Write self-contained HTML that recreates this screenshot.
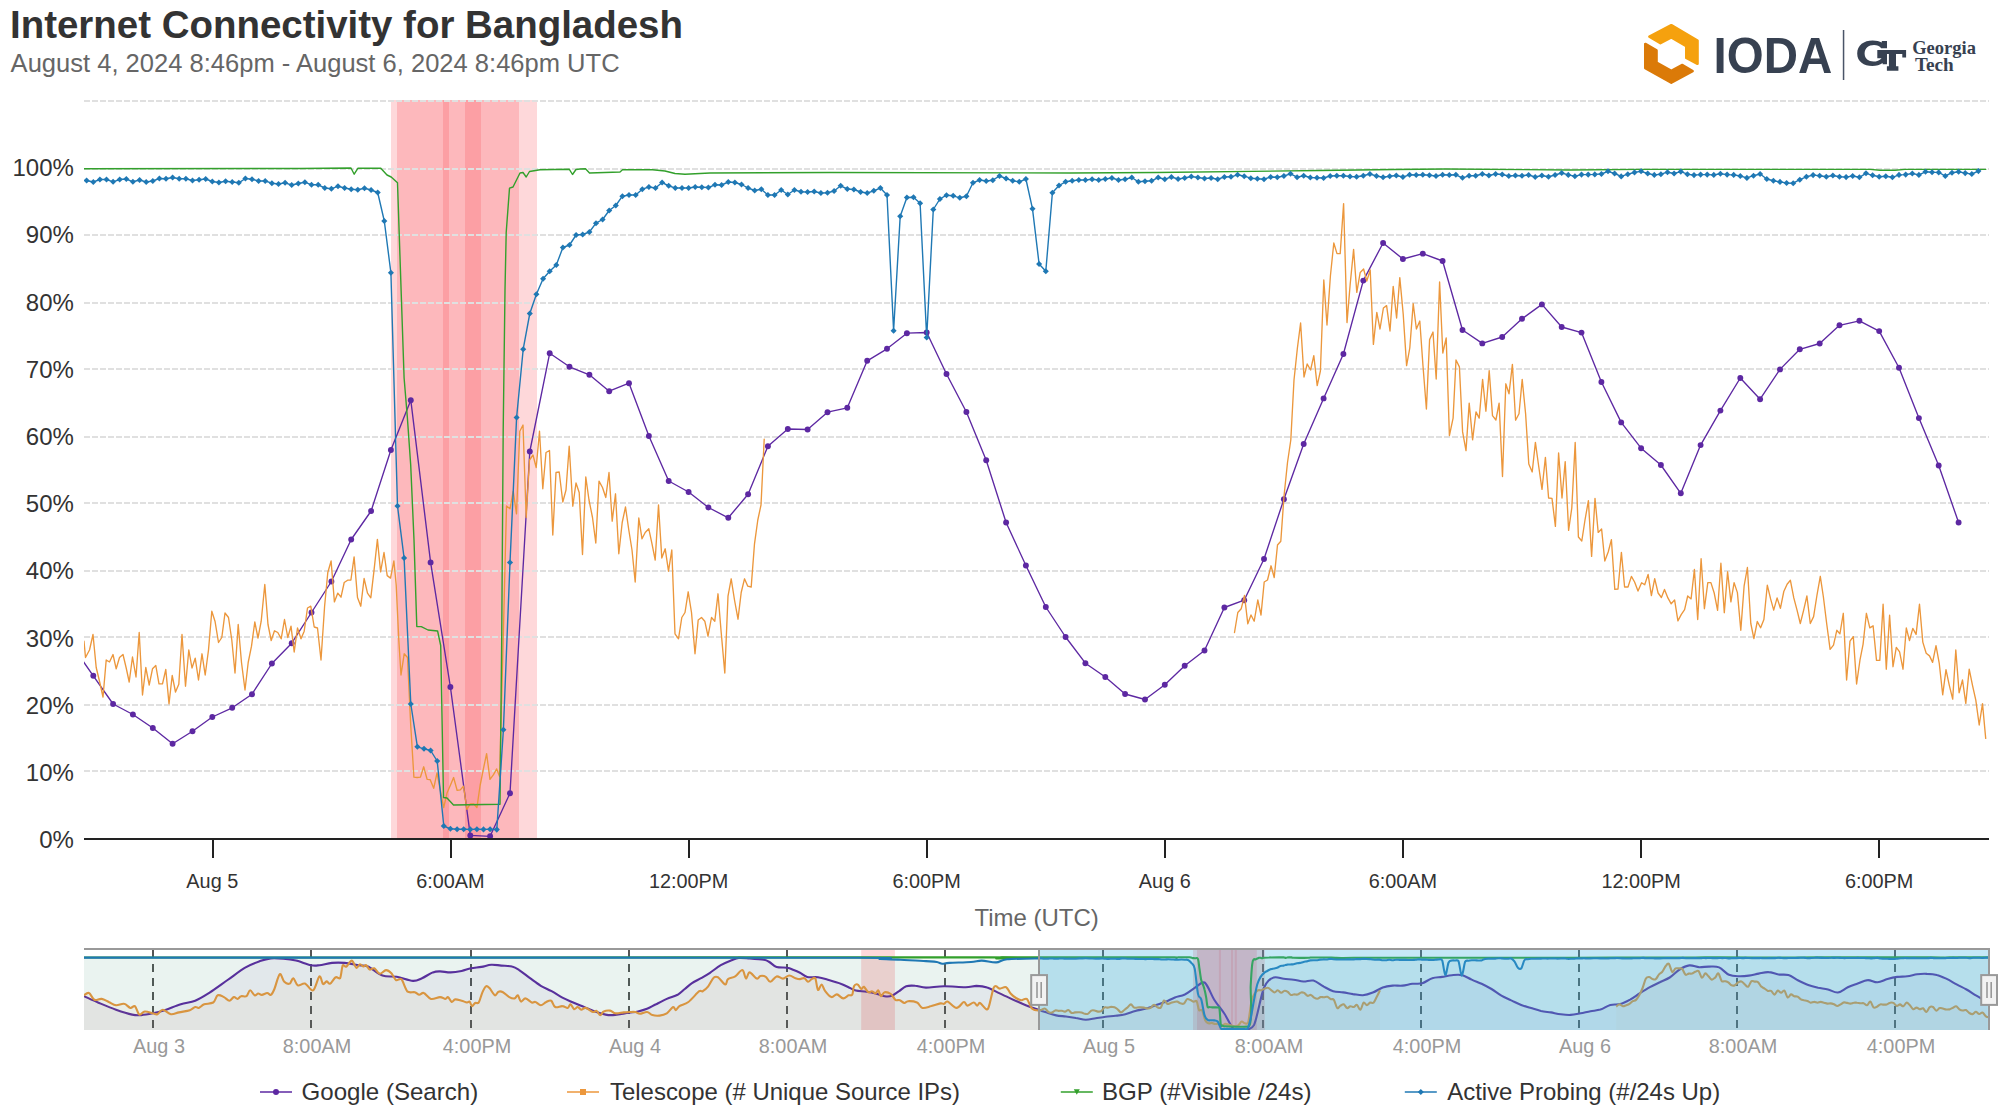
<!DOCTYPE html>
<html><head><meta charset="utf-8"><title>Internet Connectivity for Bangladesh</title>
<style>html,body{margin:0;padding:0;background:#fff;}body{width:2000px;height:1120px;overflow:hidden;font-family:"Liberation Sans", sans-serif;}svg{display:block;}</style></head>
<body>
<svg width="2000" height="1120" viewBox="0 0 2000 1120" font-family='"Liberation Sans", sans-serif'>
<defs>
<clipPath id="cp"><rect x="84" y="98" width="1905" height="743"/></clipPath>
<clipPath id="cn"><rect x="84" y="949" width="1905" height="81"/></clipPath>
<marker id="mc" markerWidth="8" markerHeight="8" refX="4" refY="4" markerUnits="userSpaceOnUse"><circle cx="4" cy="4" r="2.95" fill="#5d28a2"/></marker>
<marker id="md" markerWidth="8" markerHeight="8" refX="4" refY="4" markerUnits="userSpaceOnUse"><path d="M4 0.95 L7.05 4 L4 7.05 L0.95 4 Z" fill="#1f78b4"/></marker>
</defs>
<rect width="2000" height="1120" fill="#fff"/>
<text id="ttl" x="10" y="37.8" font-size="38.6" font-weight="bold" fill="#333" textLength="673" lengthAdjust="spacingAndGlyphs">Internet Connectivity for Bangladesh</text>
<text id="sub" x="10.6" y="71.7" font-size="26.3" fill="#666" textLength="609" lengthAdjust="spacingAndGlyphs">August 4, 2024 8:46pm - August 6, 2024 8:46pm UTC</text>
<g id="logo">
<path d="M1649.4 36.7 L1671.3 25.2 L1697.5 40.5 L1697.5 63.8 L1686.3 57.9 L1686.3 46 L1671.3 37.4 L1660.4 43.1 Z" fill="#f5a10e" stroke="#f5a10e" stroke-width="2.6" stroke-linejoin="round"/>
<path d="M1645.3 44 L1645.3 68.1 L1671.3 82.6 L1692.6 71 L1682.4 65 L1671.3 70.8 L1656.5 62.7 L1656.5 50.4 Z" fill="#db7a08" stroke="#db7a08" stroke-width="2.6" stroke-linejoin="round"/>
<text id="ioda" x="1713.6" y="72.5" font-size="49.6" font-weight="bold" fill="#374151" textLength="118.6" lengthAdjust="spacingAndGlyphs">IODA</text>
<rect x="1842.8" y="30" width="1.5" height="50" fill="#4a5568"/>
<g fill="#374151">
<path fill-rule="evenodd" d="M1857.2 53.4 C1857.2 45 1864 40.4 1872.6 40.4 C1876.5 40.4 1879.5 41.2 1881.8 42.6 L1881.8 40.9 L1887 40.9 L1887 48.2 L1881.2 48.2 C1879.6 45.9 1877 44.9 1874 44.9 C1868.6 44.9 1864.6 48.2 1864.6 53.6 C1864.6 58.9 1868.6 61.6 1873.4 61.6 C1876.6 61.6 1879.6 60.4 1881.6 58.2 L1877.3 58.2 L1877.3 50.1 L1906.1 50.1 L1906.1 57.6 L1902.3 57.6 L1902.3 54 L1896 54 L1896 66.3 L1898.4 66.3 L1898.4 70.8 L1886.9 70.8 L1886.9 66.3 L1888.9 66.3 L1888.9 54 L1887 54 L1887 64.2 L1882.6 64.2 L1882.6 63 C1880 65 1876.4 65.9 1872.4 65.9 C1863.8 65.9 1857.2 61.6 1857.2 53.4 Z"/>
</g>
<text id="geo" x="1912.2" y="53.5" font-family='"Liberation Serif", serif' font-weight="bold" font-size="18.8" fill="#374151" textLength="63.8" lengthAdjust="spacingAndGlyphs">Georgia</text>
<text id="tech" x="1915" y="70.5" font-family='"Liberation Serif", serif' font-weight="bold" font-size="18.8" fill="#374151" textLength="38.8" lengthAdjust="spacingAndGlyphs">Tech</text>
</g>
<rect x="391" y="100" width="146" height="739" fill="rgba(250,62,72,0.2)"/>
<rect x="397" y="100" width="122" height="739" fill="rgba(250,62,72,0.2)"/>
<rect x="443" y="100" width="6" height="739" fill="rgba(250,62,72,0.2)"/>
<rect x="465" y="100" width="16" height="739" fill="rgba(250,62,72,0.2)"/>
<text x="73.9" y="848" font-size="24" fill="#333" text-anchor="end">0%</text>
<line x1="84" x2="1989" y1="771" y2="771" stroke="#e0e0e0" stroke-width="2" stroke-dasharray="6,2"/>
<text x="73.9" y="780.8" font-size="24" fill="#333" text-anchor="end">10%</text>
<line x1="84" x2="1989" y1="705" y2="705" stroke="#e0e0e0" stroke-width="2" stroke-dasharray="6,2"/>
<text x="73.9" y="713.6" font-size="24" fill="#333" text-anchor="end">20%</text>
<line x1="84" x2="1989" y1="637" y2="637" stroke="#e0e0e0" stroke-width="2" stroke-dasharray="6,2"/>
<text x="73.9" y="646.5" font-size="24" fill="#333" text-anchor="end">30%</text>
<line x1="84" x2="1989" y1="571" y2="571" stroke="#e0e0e0" stroke-width="2" stroke-dasharray="6,2"/>
<text x="73.9" y="579.3" font-size="24" fill="#333" text-anchor="end">40%</text>
<line x1="84" x2="1989" y1="503" y2="503" stroke="#e0e0e0" stroke-width="2" stroke-dasharray="6,2"/>
<text x="73.9" y="512.1" font-size="24" fill="#333" text-anchor="end">50%</text>
<line x1="84" x2="1989" y1="437" y2="437" stroke="#e0e0e0" stroke-width="2" stroke-dasharray="6,2"/>
<text x="73.9" y="444.9" font-size="24" fill="#333" text-anchor="end">60%</text>
<line x1="84" x2="1989" y1="369" y2="369" stroke="#e0e0e0" stroke-width="2" stroke-dasharray="6,2"/>
<text x="73.9" y="377.7" font-size="24" fill="#333" text-anchor="end">70%</text>
<line x1="84" x2="1989" y1="303" y2="303" stroke="#e0e0e0" stroke-width="2" stroke-dasharray="6,2"/>
<text x="73.9" y="310.6" font-size="24" fill="#333" text-anchor="end">80%</text>
<line x1="84" x2="1989" y1="235" y2="235" stroke="#e0e0e0" stroke-width="2" stroke-dasharray="6,2"/>
<text x="73.9" y="243.4" font-size="24" fill="#333" text-anchor="end">90%</text>
<line x1="84" x2="1989" y1="169" y2="169" stroke="#e0e0e0" stroke-width="2" stroke-dasharray="6,2"/>
<text x="73.9" y="176.2" font-size="24" fill="#333" text-anchor="end">100%</text>
<line x1="84" x2="1989" y1="101" y2="101" stroke="#e0e0e0" stroke-width="2" stroke-dasharray="6,2"/>
<g clip-path="url(#cp)" fill="none" stroke-linejoin="round" stroke-linecap="round">
<polyline points="73.4,647.3 93.3,675.8" stroke="#5d28a2" stroke-width="1.35"/>
<polyline points="93.3,675.8 113.1,704 132.9,714.5 152.8,728 172.6,743.8 192.5,731.2 212.3,717 232.2,707.8 252,694.2 271.9,663.5 291.7,643.2 311.5,612.5 331.4,581.5 351.2,539.5 371.1,511 390.9,450 410.8,400.2 430.6,562.4 450.4,687 470.3,835.4 490.1,836.3 510,793.2 529.8,451.5 549.7,353.2 569.5,366.8 589.4,374.8 609.2,391.2 629,383.2 648.9,436 668.7,481 688.6,492 708.4,507.5 728.3,517.8 748.1,494.2 767.9,446.2 787.8,429 807.6,429.5 827.5,412.2 847.3,407.8 867.2,360.8 887,348.8 906.9,333.2 926.7,332.5 946.5,374 966.4,412 986.2,460.2 1006.1,522.5 1025.9,565.5 1045.8,607 1065.6,637 1085.4,663.2 1105.3,677 1125.1,694 1145,699.5 1164.8,684.8 1184.7,665.8 1204.5,650.5 1224.4,607.5 1244.2,600.2 1264,559 1283.9,499.2 1303.7,444 1323.6,398.4 1343.4,354 1363.3,280.6 1383.1,243 1402.9,259 1422.8,253.6 1442.6,261 1462.5,330 1482.3,343.4 1502.2,337 1522,318.8 1541.9,304.4 1561.7,327 1581.5,332.6 1601.4,382 1621.2,422.4 1641.1,448.2 1660.9,465 1680.8,493.3 1700.6,445.1 1720.4,410.6 1740.3,378 1760.1,399.2 1780,369.4 1799.8,349.3 1819.7,343.5 1839.5,325.3 1859.4,320.8 1879.2,331.1 1899,367.7 1918.9,418.1 1938.7,465.5 1958.6,522.5" stroke="#5d28a2" stroke-width="1.35" marker-start="url(#mc)" marker-mid="url(#mc)" marker-end="url(#mc)"/>
<polyline points="84,641.2 85.5,657.5 89.5,650 93,634.5 96.2,667.5 99.8,682.5 103,697 106.2,660 109.5,662 113,654.5 116.2,668.8 119.5,657.5 123,654.5 126.2,668 129.2,682 132.5,657 136,677 139.2,632.5 142.5,695 145.8,667.5 149.2,685 152.5,668.8 155.8,665.5 159,683.8 162.5,683.8 165.8,669.5 169,703.8 172.2,675.5 175.5,692 178.8,684.2 182,634.5 185.5,686.2 188.8,650 192,668 195.2,658.2 198.5,680 202,653.8 205.2,675 208.5,650 211.8,611.2 215,621.2 218.5,642.5 221.8,637.5 225,613 228.5,617.5 231.8,640 235,673 238.2,624.5 241.5,662.5 245,690 248.2,662.5 251.5,646.2 254.8,622 258,638 261.2,621.2 264.8,584.5 268,624.5 271.2,640.5 274.5,630.8 277.8,632.5 281.2,638.8 284.5,619.5 287.8,637.5 291,626.2 294.2,652 297.5,628 301,638.8 304.2,631.2 307.5,608 310.8,606.2 314.2,627 317.5,628 321,660 324.6,606.2 327.8,572.5 331.1,561 334.4,601.9 337.8,593.1 341,597.2 344.2,582.5 347.6,580.2 350.9,580 354.1,556.9 357.5,597.5 360.8,606.2 364.1,578.5 367.5,593.1 370.8,597.8 374,570.6 377.4,539.4 380.6,571.9 384,552.5 387.2,575.6 390.5,578.1 393.9,561 396.2,585 398.8,640 401,675 404.2,653.8 407.5,657.5 410.7,724.6 413.9,777.2 417.1,777.5 420.4,777.2 423.7,766.8 427.1,779.3 430.2,779.7 433.7,788.3 437,773 440.2,789.7 443.7,807.6 447,793.1 450.3,785.5 453.6,777.5 457.1,790.3 460.3,789.9 463.5,786.2 466.9,809.3 470.2,803.8 473.6,803.8 476.9,807.6 480.1,785.5 483.4,768.9 486.6,753.7 490,779.3 493.5,774.7 496.7,768.9 499.6,776.5 503.2,640 506.5,506 510,508.8 513.2,491.2 516.5,513.8 519.8,431.2 523,425 526.2,517.5 529.5,460 533,455 536.2,467.5 539.5,431.2 542.8,488.8 546,452.5 549.5,450.5 552.8,535 556,472.5 559.2,472 562.8,502 566,490 569.2,446.2 572.8,506.2 576,483 579.2,492.5 582.5,554.5 585.8,477 589,500 592.5,517.5 595.8,543 599,481.2 602.5,487.5 605.8,497.5 609,472.5 612.2,521.2 615.5,493.8 618.8,553.8 622.2,522.5 625.5,507 628.8,530 632,550 635.2,582 638.8,518 642,538.8 645.2,532.5 648.8,528.8 652,543.8 655.2,560 658.5,505 661.8,558 665.2,548.8 668.5,571.2 671.8,550 675,633.8 678.5,638.8 681.8,617.5 685,612.5 688.2,591.8 691.5,612.5 695,653.8 698.2,620 701.5,617.5 704.8,621.2 708,636.2 711.5,617.5 714.8,621.2 718,593.8 721.2,632.5 724.8,673 728,596.2 731.2,578.8 734.5,600 738,619.2 741.2,592.5 744.5,578.8 747.8,586.2 751.2,587 754.5,543.8 757.8,520 761,505 764.2,439.2" stroke="#ec973c" stroke-width="1.35"/>
<polyline points="1234.5,632.5 1237.8,612.5 1241.2,608.8 1244.5,595.5 1247.8,623.8 1251,615 1254.2,621.2 1257.8,600 1261,615 1264.2,582 1267.5,580 1271,565.8 1274.2,577.5 1277.5,545 1280.8,541.2 1284,496.2 1287.5,462.5 1290.8,440 1294,380 1297.4,348 1300.6,323 1304,377 1307.2,364 1310.6,370 1313.8,355.6 1317.2,385.6 1320.4,371 1323.8,280 1327,325 1330.4,276 1333.8,243 1337,253.6 1340.2,253.6 1343.6,203.6 1347,322.6 1350.2,284 1353.6,249.4 1356.8,292.4 1360.2,272.4 1363.6,269 1366.8,281 1370.2,270 1373.4,344.4 1376.8,312.4 1380,329 1383.4,308 1386.6,305.6 1390,331 1393.2,286.4 1396.6,318 1399.8,277.6 1403.2,314 1406.6,365.6 1409.8,348 1413.2,303.6 1416.4,329 1419.8,321 1423,366 1426.4,409 1429.6,339.6 1433,332 1436.2,379 1439.6,282 1442.8,353 1446.2,338 1449.4,435.6 1453.1,418.1 1456,360 1459.4,366.9 1462.6,431.9 1466,450.6 1469.2,403.1 1472.6,439.8 1476,411.9 1479.2,418.1 1482.6,379.4 1485.9,411.2 1489.2,370.6 1492.5,415.6 1495.9,420 1499.1,403.1 1502.5,476.5 1505.8,383.8 1509,393.8 1512.4,364.4 1515.6,420.2 1519,413.8 1522.2,379.4 1525.6,413.8 1528.8,464 1532.2,472 1535.4,442.4 1538.8,467 1542,489.4 1545.4,457.4 1548.6,498 1552,498.4 1555.4,526.4 1558.6,453 1562,498 1565.2,461.6 1568.6,530.4 1571.8,508 1575.2,442.4 1578.4,537 1581.8,541 1585,520 1588.4,500.6 1591.6,556.4 1595,498.4 1598.2,532.4 1601.6,529 1604.8,561 1608.2,552 1611.4,539.6 1614.8,589.4 1618,589 1621.4,552.4 1624.6,587 1628,587 1631.4,576.4 1634.6,582 1638,591 1641.6,582.8 1644.7,584.8 1648.1,574.4 1651.4,595.6 1654.7,578.7 1658.1,593 1661.4,597.5 1664.5,589.5 1667.9,597.9 1671.2,603.8 1674.6,599.9 1677.9,620.9 1681.2,614.6 1684.6,609.7 1687.7,596 1691.1,598.9 1694.4,569.5 1697.7,619.5 1701.1,558.7 1704.4,608.7 1707.8,582.6 1710.9,582.6 1714.2,593 1717.6,610.3 1720.9,563.2 1724.3,612.7 1727.6,571.8 1730.9,601.9 1734.1,582.6 1737.4,592.6 1740.8,630.3 1744.1,586.2 1747.4,567.5 1750.8,623.5 1753.9,638.6 1757.3,621.5 1760.6,627.8 1763.9,619.5 1767.3,585.2 1770.6,598.9 1773.7,610.1 1777.1,597.9 1780.4,608.3 1783.8,591.5 1787.1,584.2 1790.4,580.3 1793.8,597.9 1797.1,610.3 1800.3,623.5 1803.6,610.3 1806.9,596 1810.3,623.5 1813.6,616.6 1817,595 1820.3,576.3 1823.4,597 1826.8,624.5 1830.1,649.4 1833.5,645.1 1836.8,630.3 1839.9,633.9 1843.3,613.3 1846.6,680 1850,641.1 1853.3,636.6 1856.6,684 1860,659.8 1863.1,644.1 1866.4,613.3 1869.8,627.8 1873.1,625.8 1876.5,660.4 1879.8,660.4 1883.1,604.2 1886.3,669.2 1889.6,615.2 1893,666.7 1896.3,647.4 1899.6,651.9 1903,669.2 1906.3,628 1909.5,640.6 1912.8,628.4 1916.1,634.3 1919.5,604.2 1922.8,642.1 1926.2,653.3 1929.5,655.9 1932.6,662.4 1936,645.7 1939.3,663.7 1942.7,694.8 1946,669.6 1949.3,685.3 1952.7,699.1 1955.8,650 1959.1,692.8 1962.5,680 1965.8,703.4 1969.2,669.2 1972.5,685.3 1975.8,700.1 1979.2,725 1982.5,703.6 1985.7,738.4" stroke="#ec973c" stroke-width="1.35"/>
<polyline points="84,168.8 300,168.5 351,168 354.2,174.2 358,168.2 380.8,168.2 387,175 391.2,177 397.5,182.8 400.8,281 404.1,378 407.4,418 410.7,465 414,540 416.8,626.6 421.3,626.6 428,630 437.6,631 440.7,645.5 443.5,797.5 447,798 453.5,805 500,804.2 501.7,640 503.2,430 505,290 506.2,232.5 509.5,188.2 513,187 520,173 523,172.5 526.2,177 529.5,171.5 540,169.8 569.2,169.2 572.5,174.5 576,169.5 580,169 585.5,168.8 589.5,173 620,172 622.5,169.8 652.5,169.8 665,171 675,173.5 685,174.2 710,173 830,172.5 1070,173 1157,172.5 1320,170.5 1395,169.5 1445,169 1570,170 1640,169.4 1870,169.4 1880,170.2 1895,170.2 1905,169.4 1985.7,169.4" stroke="#33a02c" stroke-width="1.4"/>
<polyline points="86.6,180.5 93.3,182 99.9,179.5 106.5,179.5 113.1,181.8 119.7,179.5 126.3,179 132.9,181.8 139.6,180 146.2,182 152.8,181 159.4,178.5 166,178.8 172.6,177.5 179.2,178.8 185.9,178.8 192.5,180.5 199.1,179.8 205.7,179 212.3,181.5 218.9,182.5 225.6,181.2 232.2,182 238.8,182.8 245.4,178.5 252,179.2 258.6,181 265.2,181 271.9,183.2 278.5,184 285.1,182.8 291.7,185 298.3,183.5 304.9,182.2 311.5,184.8 318.2,184.8 324.8,188 331.4,188.8 338,186.2 344.6,188 351.2,189.2 357.8,189.8 364.5,188.2 371.1,190 377.7,192.5 384.3,221 390.9,272.8 397.5,506 404.1,558 410.8,704 417.4,746.8 424,748.8 430.6,750.5 437.2,761 443.8,826 450.4,828.8 457.1,829.3 463.7,829.2 470.3,829.4 476.9,829.2 483.5,829.4 490.1,829.2 496.8,829.6 503.4,729.8 510,562.5 516.6,417.5 523.2,349.2 529.8,313.5 536.4,294.2 543.1,278.8 549.7,271.2 556.3,265 562.9,247.5 569.5,245 576.1,235 582.7,234.5 589.4,232 596,223.2 602.6,219.5 609.2,210.5 615.8,205.5 622.4,196.2 629,195 635.7,195 642.3,189.2 648.9,187 655.5,188 662.1,182.5 668.7,185.8 675.3,188 682,188 688.6,188 695.2,187 701.8,187.2 708.4,187.5 715,184.8 721.6,185 728.3,182 734.9,182.5 741.5,184.5 748.1,188 754.7,190.5 761.3,189.2 767.9,195 774.6,195 781.2,190 787.8,194.5 794.4,190 801,191.8 807.6,192 814.2,191.5 820.9,193 827.5,192.8 834.1,191 840.7,185.8 847.3,189 853.9,189.5 860.6,192 867.2,193 873.8,190.8 880.4,188 887,195 893.6,330.8 900.2,216.2 906.9,197.5 913.5,197.2 920.1,203.2 926.7,337.5 933.3,209.5 939.9,199 946.5,195.2 953.2,195.8 959.8,197.8 966.4,196.2 973,182.8 979.6,180 986.2,181 992.8,180.2 999.5,176 1006.1,178.5 1012.7,180.8 1019.3,181.8 1025.9,179 1032.5,208.8 1039.1,264 1045.8,271.2 1052.4,192.8 1059,185.5 1065.6,181.8 1072.2,180.8 1078.8,180 1085.4,180 1092.1,179.2 1098.7,180 1105.3,179 1111.9,178 1118.5,180 1125.1,179.2 1131.8,177.5 1138.4,181.8 1145,181.2 1151.6,180.8 1158.2,177.5 1164.8,179.2 1171.4,177 1178.1,179 1184.7,178 1191.3,176.5 1197.9,177.5 1204.5,178.5 1211.1,178 1217.7,179.2 1224.4,177 1231,176.8 1237.6,174.8 1244.2,176.2 1250.8,178.2 1257.4,178.8 1264,179.2 1270.7,177 1277.3,177.2 1283.9,176 1290.5,173.8 1297.1,177.2 1303.7,175.8 1310.3,177.5 1317,177.8 1323.6,178 1330.2,176 1336.8,175.8 1343.4,175.8 1350,176.5 1356.6,176.8 1363.3,175.8 1369.9,174 1376.5,176 1383.1,177.2 1389.7,176.2 1396.3,175.5 1402.9,177 1409.6,174.8 1416.2,175 1422.8,174.8 1429.4,175.2 1436,176 1442.6,174.8 1449.3,175 1455.9,174.8 1462.5,177.8 1469.1,175.8 1475.7,175.8 1482.3,174 1488.9,175.5 1495.6,174 1502.2,174.5 1508.8,176 1515.4,175.5 1522,175.8 1528.6,175 1535.2,177 1541.9,175.5 1548.5,176.8 1555.1,175 1561.7,173 1568.3,174.9 1574.9,176.2 1581.5,174.6 1588.2,174.6 1594.8,174.4 1601.4,174 1608,171.3 1614.6,173.5 1621.2,176.4 1627.8,174.2 1634.5,172.4 1641.1,171.3 1647.7,173.5 1654.3,174.9 1660.9,174.2 1667.5,172.2 1674.1,173.5 1680.8,171.6 1687.4,174.2 1694,175.1 1700.6,174.6 1707.2,174.6 1713.8,174.9 1720.4,173.8 1727.1,174.6 1733.7,174.9 1740.3,176 1746.9,177.9 1753.5,175.7 1760.1,174 1766.8,179 1773.4,180.8 1780,181.9 1786.6,183 1793.2,183.2 1799.8,179.7 1806.4,176.8 1813.1,175.1 1819.7,175.7 1826.3,176.8 1832.9,175.5 1839.5,176.8 1846.1,177.1 1852.7,176 1859.4,177.3 1866,173.3 1872.6,175.3 1879.2,176.8 1885.8,176.2 1892.4,177.3 1899,174.9 1905.7,174.6 1912.3,173.5 1918.9,174.9 1925.5,171.8 1932.1,172.2 1938.7,172.4 1945.3,176 1952,172.7 1958.6,171.8 1965.2,173.1 1971.8,174 1978.4,171.1" stroke="#1f78b4" stroke-width="1.4" marker-start="url(#md)" marker-mid="url(#md)" marker-end="url(#md)"/>
</g>
<line x1="84" x2="1989" y1="839" y2="839" stroke="#222" stroke-width="2"/>
<line x1="213" x2="213" y1="839" y2="858" stroke="#222" stroke-width="2"/>
<text x="212.3" y="888" font-size="19.85" fill="#333" text-anchor="middle">Aug 5</text>
<line x1="451" x2="451" y1="839" y2="858" stroke="#222" stroke-width="2"/>
<text x="450.4" y="888" font-size="19.85" fill="#333" text-anchor="middle">6:00AM</text>
<line x1="689" x2="689" y1="839" y2="858" stroke="#222" stroke-width="2"/>
<text x="688.6" y="888" font-size="19.85" fill="#333" text-anchor="middle">12:00PM</text>
<line x1="927" x2="927" y1="839" y2="858" stroke="#222" stroke-width="2"/>
<text x="926.7" y="888" font-size="19.85" fill="#333" text-anchor="middle">6:00PM</text>
<line x1="1165" x2="1165" y1="839" y2="858" stroke="#222" stroke-width="2"/>
<text x="1164.8" y="888" font-size="19.85" fill="#333" text-anchor="middle">Aug 6</text>
<line x1="1403" x2="1403" y1="839" y2="858" stroke="#222" stroke-width="2"/>
<text x="1402.9" y="888" font-size="19.85" fill="#333" text-anchor="middle">6:00AM</text>
<line x1="1641" x2="1641" y1="839" y2="858" stroke="#222" stroke-width="2"/>
<text x="1641.1" y="888" font-size="19.85" fill="#333" text-anchor="middle">12:00PM</text>
<line x1="1879" x2="1879" y1="839" y2="858" stroke="#222" stroke-width="2"/>
<text x="1879.2" y="888" font-size="19.85" fill="#333" text-anchor="middle">6:00PM</text>
<text x="1036.6" y="925.5" font-size="24" fill="#666" text-anchor="middle">Time (UTC)</text>
<g id="nav">
<line x1="153" x2="153" y1="950" y2="1030" stroke="#555" stroke-width="2" stroke-dasharray="8,6"/>
<line x1="311" x2="311" y1="950" y2="1030" stroke="#555" stroke-width="2" stroke-dasharray="8,6"/>
<line x1="471" x2="471" y1="950" y2="1030" stroke="#555" stroke-width="2" stroke-dasharray="8,6"/>
<line x1="629" x2="629" y1="950" y2="1030" stroke="#555" stroke-width="2" stroke-dasharray="8,6"/>
<line x1="787" x2="787" y1="950" y2="1030" stroke="#555" stroke-width="2" stroke-dasharray="8,6"/>
<line x1="945" x2="945" y1="950" y2="1030" stroke="#555" stroke-width="2" stroke-dasharray="8,6"/>
<line x1="1103" x2="1103" y1="950" y2="1030" stroke="#555" stroke-width="2" stroke-dasharray="8,6"/>
<line x1="1263" x2="1263" y1="950" y2="1030" stroke="#555" stroke-width="2" stroke-dasharray="8,6"/>
<line x1="1421" x2="1421" y1="950" y2="1030" stroke="#555" stroke-width="2" stroke-dasharray="8,6"/>
<line x1="1579" x2="1579" y1="950" y2="1030" stroke="#555" stroke-width="2" stroke-dasharray="8,6"/>
<line x1="1737" x2="1737" y1="950" y2="1030" stroke="#555" stroke-width="2" stroke-dasharray="8,6"/>
<line x1="1895" x2="1895" y1="950" y2="1030" stroke="#555" stroke-width="2" stroke-dasharray="8,6"/>
<rect x="861.2" y="950" width="33.7" height="80" fill="rgba(250,62,72,0.2)"/>
<rect x="1193" y="950" width="71.8" height="80" fill="rgba(250,62,72,0.2)"/>
<rect x="1197" y="950" width="59.8" height="80" fill="rgba(250,62,72,0.2)"/>
<rect x="1218.9" y="950" width="2" height="80" fill="rgba(250,62,72,0.2)"/>
<rect x="1231" y="950" width="2" height="80" fill="rgba(250,62,72,0.2)"/>
<rect x="1234.8" y="950" width="2" height="80" fill="rgba(250,62,72,0.2)"/>
<g clip-path="url(#cn)">
<path d="M84 996.2C86.3 997.2 92.7 1000.2 98 1002.5C103.3 1004.7 110.3 1007.7 116 1009.7C121.7 1011.7 128 1013.7 132.2 1014.6C136.4 1015.5 137.7 1015.3 141.2 1015.1C144.6 1014.9 149 1014.1 152.9 1013.3C156.8 1012.5 159.9 1011.7 164.6 1010.2C169.2 1008.7 175.7 1005.9 180.8 1004.3C185.9 1002.7 190.4 1002.6 195.2 1000.7C200 998.7 204.2 996 209.6 992.6C215 989.1 221.6 984.2 227.6 980C233.6 975.8 240.2 970.5 245.6 967.4C251 964.2 255.8 962.6 260 961.1C264.2 959.6 266.9 958.8 270.8 958.4C274.7 958 279.2 958.4 283.4 958.8C287.6 959.1 291.4 959.5 296 960.6C300.6 961.6 307 964.5 310.9 965.2C314.8 966 315.9 965.6 319.4 965.2C322.9 964.8 327.8 963.3 332 962.9C336.2 962.5 340.1 962.5 344.6 962.9C349.1 963.3 355.1 964.6 359 965.2C362.9 965.8 364.1 964.8 368 966.5C371.9 968.2 377.6 973.8 382.4 975.5C387.2 977.2 391.7 975.9 396.8 976.8C401.9 977.7 408.8 980.7 413 980.9C417.2 981.1 418.7 979.6 422 978.2C425.3 976.8 429.8 973.6 432.8 972.4C435.8 971.3 437 971.4 440 971.4C443 971.4 447.2 972.5 450.8 972.4C454.4 972.4 458.2 971.7 461.6 971C465 970.3 467.7 969 471 968.3C474.3 967.6 478 967.5 481.4 966.9C484.8 966.3 488 964.9 491.3 964.7C494.6 964.5 497.7 965.3 501.2 965.6C504.6 965.9 509 965.7 512 966.5C515 967.2 516.2 968.1 519.2 970.1C522.2 972 526.4 975.6 530 978.2C533.6 980.8 537.2 983.6 540.8 985.8C544.4 987.9 548 989.2 551.6 991.2C555.2 993.1 558.8 995.7 562.4 997.6C566 999.5 569.6 1000.9 573.2 1002.5C576.8 1004.1 580.4 1005.5 584 1007C587.6 1008.5 591.2 1010.2 594.8 1011.5C598.4 1012.8 602.6 1014 605.6 1014.6C608.6 1015.2 610.4 1015.2 612.8 1015.1C615.2 1015 617.3 1014.6 620 1014.2C622.7 1013.8 626 1013.2 629 1012.8C632 1012.3 635 1012.2 638 1011.5C641 1010.8 644 1010 647 1008.8C650 1007.6 652.7 1005.9 656 1004.3C659.3 1002.6 663.2 1000.5 666.8 998.9C670.4 997.3 674.6 996.4 677.6 994.8C680.6 993.1 682.4 990.9 684.8 989C687.2 987.1 689.3 985 692 983.2C694.7 981.4 698 979.9 701 978.2C704 976.5 706.7 975 710 972.8C713.3 970.6 717.2 967.3 720.8 965.2C724.4 963.1 728.6 961.4 731.6 960.2C734.6 959 735.8 958.2 738.8 957.9C741.8 957.6 745.4 958.1 749.6 958.4C753.8 958.7 760.7 959.2 764 959.8C767.3 960.4 767.3 960.8 769.4 962C771.5 963.2 773.6 966.1 776.6 967C779.6 968 784.5 967.2 787.4 967.8C790.2 968.3 791.6 969.3 793.7 970.1C795.8 970.9 797.7 971.7 800 972.8C802.3 973.9 804.2 976.2 807.2 976.9C810.2 977.7 814.4 976.8 818 977.3C821.6 977.8 824.9 978.9 828.8 980C832.7 981.1 837.8 982.6 841.4 984C845 985.3 848 987 850.4 988.1C852.8 989.2 853.1 989.8 855.8 990.4C858.5 991 863.3 991.2 866.6 991.7C869.9 992.2 872.6 992.7 875.6 993.5C878.6 994.2 881.9 995.8 884.6 996.2C887.3 996.6 889.4 996.7 891.8 995.8C894.2 995 896.6 992.7 899 991.2C901.4 989.6 903.5 987.2 906.2 986.3C908.9 985.4 911.9 985.5 915.2 985.8C918.5 986 921.2 987.5 926 987.6C930.8 987.6 937.4 986.4 944 986.3C950.6 986.2 960.2 987.3 965.6 987.2C971 987.1 972.8 985.9 976.4 985.9C980 986 983.6 986.4 987.2 987.6C990.8 988.7 994.4 990.9 998 992.6C1001.6 994.3 1005.2 996 1008.8 997.6C1012.4 999.3 1016 1000.9 1019.6 1002.5C1023.2 1004.1 1027.1 1005.8 1030.4 1007C1033.6 1008.2 1037.2 1009 1039 1009.7C1040.9 1010.3 1040.4 1010.4 1041.6 1010.9C1042.8 1011.3 1043.8 1011.6 1046.2 1012.3C1048.6 1013.1 1052.8 1014.7 1056.1 1015.4C1059.4 1016.1 1062.7 1016.1 1066 1016.5C1069.3 1016.9 1072.6 1017.4 1075.9 1018C1079.2 1018.5 1082.5 1019.6 1085.8 1019.7C1089.1 1019.7 1092.4 1018.8 1095.7 1018.3C1099 1017.8 1102.3 1017.2 1105.6 1016.8C1108.9 1016.4 1112.2 1016.2 1115.5 1015.8C1118.8 1015.4 1122.1 1015.1 1125.4 1014.3C1128.7 1013.5 1132 1011.9 1135.3 1011C1138.6 1010.1 1141.9 1009.7 1145.2 1008.8C1148.5 1007.9 1151.8 1006.6 1155.1 1005.5C1158.4 1004.3 1161.7 1003.4 1165 1002.1C1168.3 1000.8 1171.6 998.8 1174.9 997.5C1178.2 996.3 1181.5 996.1 1184.8 994.5C1188.1 992.8 1191.4 989.9 1194.7 987.9C1198 985.9 1201.3 981.5 1204.6 982.5C1207.8 984.5 1211.1 994.9 1214.4 1000C1217.7 1005.2 1221 1008.6 1224.3 1013.5C1227.6 1018.5 1230.9 1026.9 1234.2 1029.6C1237.5 1030.7 1240.8 1030.5 1244.1 1029.7C1247.4 1028.9 1250.7 1030.7 1254 1025C1257.3 1018.1 1260.6 996 1263.9 988C1267.2 980.1 1270.5 978.9 1273.8 977.4C1277.1 976.4 1280.4 978.4 1283.7 978.8C1287 979.2 1290.3 979.3 1293.6 979.7C1296.9 980.1 1300.2 981.3 1303.5 981.5C1306.8 981.6 1310.1 979.8 1313.4 980.6C1316.7 981.4 1320 984.6 1323.3 986.3C1326.6 988.1 1329.9 990.2 1333.2 991.2C1336.5 992.2 1339.8 991.9 1343.1 992.4C1346.4 992.9 1349.7 993.6 1353 994.1C1356.3 994.5 1359.6 995.4 1362.9 995.2C1366.2 995 1369.5 993.9 1372.8 992.6C1376.1 991.4 1379.4 988.6 1382.7 987.4C1386 986.3 1389.3 985.9 1392.6 985.6C1395.9 985.3 1399.2 985.9 1402.5 985.6C1405.8 985.3 1409.1 984.2 1412.4 983.8C1415.7 983.4 1419 984.2 1422.3 983.3C1425.6 982.3 1428.9 979.2 1432.2 978.2C1435.5 977.1 1438.8 977.4 1442.1 976.9C1445.3 976.4 1448.6 975.5 1451.9 975.2C1455.2 974.9 1458.5 974.4 1461.8 975.1C1465.1 975.9 1468.4 978.2 1471.7 979.6C1475 981.1 1478.3 982.2 1481.6 983.7C1484.9 985.3 1488.2 987 1491.5 989C1494.8 991 1498.1 993.8 1501.4 995.7C1504.7 997.6 1508 998.8 1511.3 1000.4C1514.6 1001.9 1517.9 1003.6 1521.2 1004.9C1524.5 1006.2 1527.8 1007.1 1531.1 1008.1C1534.4 1009.1 1537.7 1010.2 1541 1011C1544.3 1011.7 1547.6 1011.9 1550.9 1012.4C1554.2 1013 1557.5 1013.9 1560.8 1014.3C1564.1 1014.7 1567.4 1015.1 1570.7 1014.9C1574 1014.7 1577.3 1013.9 1580.6 1013.3C1583.9 1012.7 1587.2 1011.8 1590.5 1011.2C1593.8 1010.6 1597.1 1010.6 1600.4 1009.6C1603.7 1008.5 1607 1005.8 1610.3 1004.9C1613.6 1004 1616.9 1005 1620.2 1004.1C1623.5 1003.3 1626.8 1001.5 1630.1 999.7C1633.4 997.8 1636.7 995.3 1640 993.2C1643.3 991.1 1646.6 989 1649.9 987.2C1653.2 985.4 1656.5 983.9 1659.8 982.3C1663.1 980.6 1666.4 979.6 1669.7 977.5C1673 975.3 1676.3 971.5 1679.6 969.5C1682.8 967.5 1686.1 965.8 1689.4 965.4C1692.7 965 1696 967 1699.3 967.2C1702.6 967.3 1705.9 966.5 1709.2 966.6C1712.5 966.6 1715.8 966 1719.1 967.4C1722.4 968.8 1725.7 973.4 1729 974.8C1732.3 976.3 1735.6 976.2 1738.9 976.3C1742.2 976.4 1745.5 976.1 1748.8 975.6C1752.1 975.2 1755.4 974.2 1758.7 973.6C1762 973 1765.3 971.9 1768.6 972.1C1771.9 972.2 1775.2 974 1778.5 974.5C1781.8 975 1785.1 974.1 1788.4 975.1C1791.7 976.1 1795 978.9 1798.3 980.5C1801.6 982.1 1804.9 983.7 1808.2 984.9C1811.5 986.1 1814.8 986.9 1818.1 987.7C1821.4 988.4 1824.7 988.7 1828 989.5C1831.3 990.3 1834.6 992.9 1837.9 992.5C1841.2 992.2 1844.5 988.8 1847.8 987.3C1851.1 985.8 1854.4 984.8 1857.7 983.6C1861 982.4 1864.3 980.3 1867.6 980.1C1870.9 979.8 1874.2 982.5 1877.5 982.3C1880.8 982.2 1884.1 980 1887.4 979.1C1890.7 978.2 1894 977.4 1897.3 976.9C1900.6 976.5 1903.9 976.7 1907.2 976.3C1910.5 975.9 1913.8 974.8 1917.1 974.3C1920.3 973.9 1923.6 973.7 1926.9 973.9C1930.2 974 1933.5 974.1 1936.8 975C1940.1 975.8 1943.4 977.4 1946.7 978.9C1950 980.5 1953.3 982.6 1956.6 984.4C1959.9 986.2 1963.2 987.6 1966.5 989.5C1969.8 991.4 1972.9 993.6 1976.4 995.7C1979.9 997.8 1985.7 1001.1 1987.5 1002.2L1987.5 1030L84 1030Z" fill="#5d28a2" fill-opacity="0.05"/>
<path d="M84 996.2C86.3 997.2 92.7 1000.2 98 1002.5C103.3 1004.7 110.3 1007.7 116 1009.7C121.7 1011.7 128 1013.7 132.2 1014.6C136.4 1015.5 137.7 1015.3 141.2 1015.1C144.6 1014.9 149 1014.1 152.9 1013.3C156.8 1012.5 159.9 1011.7 164.6 1010.2C169.2 1008.7 175.7 1005.9 180.8 1004.3C185.9 1002.7 190.4 1002.6 195.2 1000.7C200 998.7 204.2 996 209.6 992.6C215 989.1 221.6 984.2 227.6 980C233.6 975.8 240.2 970.5 245.6 967.4C251 964.2 255.8 962.6 260 961.1C264.2 959.6 266.9 958.8 270.8 958.4C274.7 958 279.2 958.4 283.4 958.8C287.6 959.1 291.4 959.5 296 960.6C300.6 961.6 307 964.5 310.9 965.2C314.8 966 315.9 965.6 319.4 965.2C322.9 964.8 327.8 963.3 332 962.9C336.2 962.5 340.1 962.5 344.6 962.9C349.1 963.3 355.1 964.6 359 965.2C362.9 965.8 364.1 964.8 368 966.5C371.9 968.2 377.6 973.8 382.4 975.5C387.2 977.2 391.7 975.9 396.8 976.8C401.9 977.7 408.8 980.7 413 980.9C417.2 981.1 418.7 979.6 422 978.2C425.3 976.8 429.8 973.6 432.8 972.4C435.8 971.3 437 971.4 440 971.4C443 971.4 447.2 972.5 450.8 972.4C454.4 972.4 458.2 971.7 461.6 971C465 970.3 467.7 969 471 968.3C474.3 967.6 478 967.5 481.4 966.9C484.8 966.3 488 964.9 491.3 964.7C494.6 964.5 497.7 965.3 501.2 965.6C504.6 965.9 509 965.7 512 966.5C515 967.2 516.2 968.1 519.2 970.1C522.2 972 526.4 975.6 530 978.2C533.6 980.8 537.2 983.6 540.8 985.8C544.4 987.9 548 989.2 551.6 991.2C555.2 993.1 558.8 995.7 562.4 997.6C566 999.5 569.6 1000.9 573.2 1002.5C576.8 1004.1 580.4 1005.5 584 1007C587.6 1008.5 591.2 1010.2 594.8 1011.5C598.4 1012.8 602.6 1014 605.6 1014.6C608.6 1015.2 610.4 1015.2 612.8 1015.1C615.2 1015 617.3 1014.6 620 1014.2C622.7 1013.8 626 1013.2 629 1012.8C632 1012.3 635 1012.2 638 1011.5C641 1010.8 644 1010 647 1008.8C650 1007.6 652.7 1005.9 656 1004.3C659.3 1002.6 663.2 1000.5 666.8 998.9C670.4 997.3 674.6 996.4 677.6 994.8C680.6 993.1 682.4 990.9 684.8 989C687.2 987.1 689.3 985 692 983.2C694.7 981.4 698 979.9 701 978.2C704 976.5 706.7 975 710 972.8C713.3 970.6 717.2 967.3 720.8 965.2C724.4 963.1 728.6 961.4 731.6 960.2C734.6 959 735.8 958.2 738.8 957.9C741.8 957.6 745.4 958.1 749.6 958.4C753.8 958.7 760.7 959.2 764 959.8C767.3 960.4 767.3 960.8 769.4 962C771.5 963.2 773.6 966.1 776.6 967C779.6 968 784.5 967.2 787.4 967.8C790.2 968.3 791.6 969.3 793.7 970.1C795.8 970.9 797.7 971.7 800 972.8C802.3 973.9 804.2 976.2 807.2 976.9C810.2 977.7 814.4 976.8 818 977.3C821.6 977.8 824.9 978.9 828.8 980C832.7 981.1 837.8 982.6 841.4 984C845 985.3 848 987 850.4 988.1C852.8 989.2 853.1 989.8 855.8 990.4C858.5 991 863.3 991.2 866.6 991.7C869.9 992.2 872.6 992.7 875.6 993.5C878.6 994.2 881.9 995.8 884.6 996.2C887.3 996.6 889.4 996.7 891.8 995.8C894.2 995 896.6 992.7 899 991.2C901.4 989.6 903.5 987.2 906.2 986.3C908.9 985.4 911.9 985.5 915.2 985.8C918.5 986 921.2 987.5 926 987.6C930.8 987.6 937.4 986.4 944 986.3C950.6 986.2 960.2 987.3 965.6 987.2C971 987.1 972.8 985.9 976.4 985.9C980 986 983.6 986.4 987.2 987.6C990.8 988.7 994.4 990.9 998 992.6C1001.6 994.3 1005.2 996 1008.8 997.6C1012.4 999.3 1016 1000.9 1019.6 1002.5C1023.2 1004.1 1027.1 1005.8 1030.4 1007C1033.6 1008.2 1037.2 1009 1039 1009.7C1040.9 1010.3 1040.4 1010.4 1041.6 1010.9C1042.8 1011.3 1043.8 1011.6 1046.2 1012.3C1048.6 1013.1 1052.8 1014.7 1056.1 1015.4C1059.4 1016.1 1062.7 1016.1 1066 1016.5C1069.3 1016.9 1072.6 1017.4 1075.9 1018C1079.2 1018.5 1082.5 1019.6 1085.8 1019.7C1089.1 1019.7 1092.4 1018.8 1095.7 1018.3C1099 1017.8 1102.3 1017.2 1105.6 1016.8C1108.9 1016.4 1112.2 1016.2 1115.5 1015.8C1118.8 1015.4 1122.1 1015.1 1125.4 1014.3C1128.7 1013.5 1132 1011.9 1135.3 1011C1138.6 1010.1 1141.9 1009.7 1145.2 1008.8C1148.5 1007.9 1151.8 1006.6 1155.1 1005.5C1158.4 1004.3 1161.7 1003.4 1165 1002.1C1168.3 1000.8 1171.6 998.8 1174.9 997.5C1178.2 996.3 1181.5 996.1 1184.8 994.5C1188.1 992.8 1191.4 989.9 1194.7 987.9C1198 985.9 1201.3 981.5 1204.6 982.5C1207.8 984.5 1211.1 994.9 1214.4 1000C1217.7 1005.2 1221 1008.6 1224.3 1013.5C1227.6 1018.5 1230.9 1026.9 1234.2 1029.6C1237.5 1030.7 1240.8 1030.5 1244.1 1029.7C1247.4 1028.9 1250.7 1030.7 1254 1025C1257.3 1018.1 1260.6 996 1263.9 988C1267.2 980.1 1270.5 978.9 1273.8 977.4C1277.1 976.4 1280.4 978.4 1283.7 978.8C1287 979.2 1290.3 979.3 1293.6 979.7C1296.9 980.1 1300.2 981.3 1303.5 981.5C1306.8 981.6 1310.1 979.8 1313.4 980.6C1316.7 981.4 1320 984.6 1323.3 986.3C1326.6 988.1 1329.9 990.2 1333.2 991.2C1336.5 992.2 1339.8 991.9 1343.1 992.4C1346.4 992.9 1349.7 993.6 1353 994.1C1356.3 994.5 1359.6 995.4 1362.9 995.2C1366.2 995 1369.5 993.9 1372.8 992.6C1376.1 991.4 1379.4 988.6 1382.7 987.4C1386 986.3 1389.3 985.9 1392.6 985.6C1395.9 985.3 1399.2 985.9 1402.5 985.6C1405.8 985.3 1409.1 984.2 1412.4 983.8C1415.7 983.4 1419 984.2 1422.3 983.3C1425.6 982.3 1428.9 979.2 1432.2 978.2C1435.5 977.1 1438.8 977.4 1442.1 976.9C1445.3 976.4 1448.6 975.5 1451.9 975.2C1455.2 974.9 1458.5 974.4 1461.8 975.1C1465.1 975.9 1468.4 978.2 1471.7 979.6C1475 981.1 1478.3 982.2 1481.6 983.7C1484.9 985.3 1488.2 987 1491.5 989C1494.8 991 1498.1 993.8 1501.4 995.7C1504.7 997.6 1508 998.8 1511.3 1000.4C1514.6 1001.9 1517.9 1003.6 1521.2 1004.9C1524.5 1006.2 1527.8 1007.1 1531.1 1008.1C1534.4 1009.1 1537.7 1010.2 1541 1011C1544.3 1011.7 1547.6 1011.9 1550.9 1012.4C1554.2 1013 1557.5 1013.9 1560.8 1014.3C1564.1 1014.7 1567.4 1015.1 1570.7 1014.9C1574 1014.7 1577.3 1013.9 1580.6 1013.3C1583.9 1012.7 1587.2 1011.8 1590.5 1011.2C1593.8 1010.6 1597.1 1010.6 1600.4 1009.6C1603.7 1008.5 1607 1005.8 1610.3 1004.9C1613.6 1004 1616.9 1005 1620.2 1004.1C1623.5 1003.3 1626.8 1001.5 1630.1 999.7C1633.4 997.8 1636.7 995.3 1640 993.2C1643.3 991.1 1646.6 989 1649.9 987.2C1653.2 985.4 1656.5 983.9 1659.8 982.3C1663.1 980.6 1666.4 979.6 1669.7 977.5C1673 975.3 1676.3 971.5 1679.6 969.5C1682.8 967.5 1686.1 965.8 1689.4 965.4C1692.7 965 1696 967 1699.3 967.2C1702.6 967.3 1705.9 966.5 1709.2 966.6C1712.5 966.6 1715.8 966 1719.1 967.4C1722.4 968.8 1725.7 973.4 1729 974.8C1732.3 976.3 1735.6 976.2 1738.9 976.3C1742.2 976.4 1745.5 976.1 1748.8 975.6C1752.1 975.2 1755.4 974.2 1758.7 973.6C1762 973 1765.3 971.9 1768.6 972.1C1771.9 972.2 1775.2 974 1778.5 974.5C1781.8 975 1785.1 974.1 1788.4 975.1C1791.7 976.1 1795 978.9 1798.3 980.5C1801.6 982.1 1804.9 983.7 1808.2 984.9C1811.5 986.1 1814.8 986.9 1818.1 987.7C1821.4 988.4 1824.7 988.7 1828 989.5C1831.3 990.3 1834.6 992.9 1837.9 992.5C1841.2 992.2 1844.5 988.8 1847.8 987.3C1851.1 985.8 1854.4 984.8 1857.7 983.6C1861 982.4 1864.3 980.3 1867.6 980.1C1870.9 979.8 1874.2 982.5 1877.5 982.3C1880.8 982.2 1884.1 980 1887.4 979.1C1890.7 978.2 1894 977.4 1897.3 976.9C1900.6 976.5 1903.9 976.7 1907.2 976.3C1910.5 975.9 1913.8 974.8 1917.1 974.3C1920.3 973.9 1923.6 973.7 1926.9 973.9C1930.2 974 1933.5 974.1 1936.8 975C1940.1 975.8 1943.4 977.4 1946.7 978.9C1950 980.5 1953.3 982.6 1956.6 984.4C1959.9 986.2 1963.2 987.6 1966.5 989.5C1969.8 991.4 1972.9 993.6 1976.4 995.7C1979.9 997.8 1985.7 1001.1 1987.5 1002.2" fill="none" stroke="#5d28a2" stroke-width="2.1" stroke-linejoin="round"/>
<path d="M84 995.3C84.8 994.9 87.3 992.2 89 993C90.7 993.7 92.3 998.8 94.4 999.8C96.5 1000.8 99.2 998.5 101.6 998.9C104 999.3 106.4 1000.9 108.8 1002C111.2 1003 113.4 1004.9 116 1005.2C118.5 1005.5 121.7 1003.3 124.1 1003.8C126.5 1004.2 128.6 1007.5 130.4 1007.9C132.2 1008.3 133.4 1005.1 134.9 1006.1C136.4 1007.2 137.7 1013.7 139.4 1014.6C141 1015.5 142.5 1011.7 144.8 1011.5C147 1011.3 150.8 1012.8 152.9 1013.3C155 1013.7 155.7 1014.8 157.4 1014.2C159 1013.6 160.5 1009.7 162.8 1009.7C165 1009.7 168.2 1013.7 170.9 1014.2C173.6 1014.6 175.8 1013.1 179 1012.4C182.1 1011.7 187.1 1011.1 189.8 1010.2C192.5 1009.3 193.7 1007.4 195.2 1007C196.7 1006.6 197.3 1008.3 198.8 1007.9C200.3 1007.4 201.8 1005.2 204.2 1004.3C206.6 1003.4 210.9 1004 213.2 1002.5C215.4 1001 215.9 996.2 217.7 995.3C219.5 994.4 222 996.2 224 997.1C225.9 998 227.7 1000.7 229.4 1000.7C231 1000.7 232.5 997.4 233.9 997.1C235.2 996.8 236.3 999 237.5 998.9C238.7 998.7 239.6 996.6 241.1 996.2C242.6 995.7 245 997.2 246.5 996.2C248 995.2 248.7 990.4 250.1 990.3C251.4 990.1 253.2 994.8 254.6 995.3C255.9 995.8 257 993.6 258.2 993.5C259.4 993.4 260.3 995 261.8 994.9C263.3 994.8 265.7 993 267.2 993C268.7 993 269.6 995.6 270.8 994.9C272 994.3 272.9 992.5 274.4 989C275.9 985.5 278.1 975.3 279.8 974.1C281.4 973.1 282.6 980.2 284.3 981.8C285.9 983.4 288.2 984.2 289.7 983.6C291.2 983 291.9 977.9 293.3 978.2C294.6 978.5 295.8 984.5 297.8 985.4C299.7 986.3 302.4 982.8 305 983.6C307.5 984.4 310.7 991.4 313.1 990.4C315.5 989.2 317.7 977.5 319.4 976.4C321 975.4 321.8 983.1 323 984C324.2 984.8 325.4 981.5 326.6 981.4C327.8 981.4 328.7 984.3 330.2 983.6C331.7 982.9 333.9 978.2 335.6 977.3C337.2 976.4 338.9 979.2 340.1 978.2C341.3 976.2 341.7 967.2 342.8 965.2C343.8 964.2 344.9 967.3 346.4 966.5C347.9 965.7 350.1 960.3 351.8 960.6C353.4 960.8 354.9 967.2 356.3 967.8C357.6 968.4 358.7 964.4 359.9 964.2C361.1 963.9 362.4 966.3 363.5 966.5C364.5 966.7 365.1 964.7 366.2 965.2C367.2 965.7 368.4 969 369.8 969.6C371.1 970.1 372.6 967.6 374.3 968.3C375.9 969 377.7 973.4 379.7 973.7C381.6 974 384 970.2 386 970.1C387.9 970 389.7 971.5 391.4 973.2C393 974.8 394.2 979 395.9 980C397.5 981 399.3 978.1 401.3 979.1C403.2 981 405.3 989.5 407.6 991.7C409.8 993.2 412.8 991.7 414.8 992.2C416.7 992.7 417.8 994.6 419.3 994.8C420.8 994.9 421.8 992.3 423.8 993C425.7 993.6 428.3 998.2 431 998.9C433.7 999.6 437.6 997.1 440 997.1C442.4 997.1 444 998.9 445.4 998.9C446.7 998.9 447 996.6 448.1 997.1C449.1 997.6 450.5 1001.6 451.7 1002C452.9 1002.3 453.6 999.6 455.3 999.4C456.9 999.2 459.6 1000.2 461.6 1000.7C463.5 1001.2 465.6 1002.3 467 1002.5C468.3 1002.6 468.9 1001 469.7 1001.6C470.5 1002.2 471.1 1005.9 472 1006.1C472.9 1006.3 474 1003.6 475.1 1003C476.2 1002.4 477.5 1004 478.7 1002.5C479.9 1000.8 481.1 995.3 482.3 992.6C483.5 989.9 484.7 987 485.9 986.3C487.1 985.5 488 986.6 489.5 988.1C491 989.6 493.4 994.7 494.9 995.3C496.4 995.9 497.1 992.2 498.5 991.7C499.8 991.2 501.2 991.3 503 992.2C504.8 993.1 507.3 996.1 509.3 997.1C511.2 998.1 513.3 998.7 514.7 998.4C516.1 998.1 516.7 994.8 517.8 995.3C518.8 995.8 519.7 1001.1 521 1001.6C522.3 1002.1 523.7 998.2 525.5 998.4C527.3 998.5 530.1 1001.9 531.8 1002.5C533.4 1003.1 533.9 1001.5 535.4 1002C536.9 1002.4 539 1005.2 540.8 1005.2C542.6 1005.2 544.5 1002.7 546.2 1002C547.9 1001.2 549.7 999.9 551.2 1000.7C552.7 1001.5 553.3 1006.1 555.2 1007C557.1 1007.9 560.3 1005.9 562.4 1006.1C564.5 1006.2 566.4 1008.2 567.8 1007.9C569.1 1007.6 569.4 1004.1 570.5 1004.3C571.5 1004.5 572.9 1008.7 574.1 1009.2C575.3 1009.6 576.5 1006.9 577.7 1007C578.9 1007.1 579.9 1009.5 581.3 1009.7C582.6 1009.8 583.8 1007.5 585.8 1007.9C587.7 1008.3 591.2 1011.5 593 1012C594.8 1012.5 595.4 1010.4 596.6 1011C597.8 1011.5 599 1015 600.2 1015.1C601.4 1015.2 602.1 1012.2 603.8 1011.5C605.4 1010.7 608.1 1010.3 610.1 1010.6C612 1010.9 613.2 1013 615.5 1013.3C617.7 1013.6 621.3 1012.6 623.6 1012.4C625.8 1012.2 627 1012.1 629 1012C630.9 1012 633.5 1011.7 635.3 1012C637.1 1012.3 637.8 1013.8 639.8 1013.8C641.7 1013.8 644.9 1011.8 647 1012C649.1 1012.2 650.3 1014.5 652.4 1015.1C654.5 1015.7 657.2 1015.9 659.6 1015.6C662 1015.3 664.5 1014.7 666.8 1013.3C669 1011.9 671.6 1007.5 673.1 1007C674.6 1006.5 674.7 1010.4 675.8 1010.2C676.8 1010.1 677.3 1007.5 679.4 1006.1C681.5 1004.7 685.1 1004.4 688.4 1002C691.7 999.5 696.8 993 699.2 991.2C701.6 990.2 701.3 992 702.8 991.2C704.3 990.3 706.4 988.5 708.2 986.3C710 984.1 711.9 979.3 713.6 977.8C715.2 976.3 716.1 976.3 718.1 977.3C720 978.4 723.6 984.2 725.3 984.5C726.9 984.8 726.3 980.4 728 979.1C729.6 977.7 732.8 977.9 735.2 976.4C737.6 974.9 740.6 969.7 742.4 970.1C744.2 970.5 744.8 978.2 746 978.6C747.2 978.9 747.8 972.4 749.6 972.4C751.4 972.4 755 978 756.8 978.6C758.6 979.2 758.9 976.3 760.4 976C761.9 975.7 764.1 975.8 765.8 976.8C767.4 977.7 768.5 981.9 770.3 981.8C772.1 981.7 774.5 976.9 776.6 976.4C778.7 975.9 780.8 978.7 782.9 978.6C785 978.4 787.1 975.6 789.2 975.5C791.3 975.4 793.7 977.6 795.5 978.2C797.3 978.8 798.5 979.1 800 979.1C801.5 979.1 803.1 977.7 804.5 978.2C805.8 978.6 806.9 981.6 808.1 981.8C809.3 981.9 810.5 979.7 811.7 979.1C812.9 978.5 814.2 977.2 815.3 978.2C816.3 980 816.9 988.8 818 989.9C819 990.9 820.4 984.3 821.6 984.5C822.8 984.7 823.5 989.1 825.2 991.2C826.8 993.3 829.5 996.6 831.5 997.1C833.4 997.6 834.9 994.2 836.9 994.4C838.8 994.6 841.2 998.2 843.2 998.4C845.1 998.5 847.1 995.9 848.6 995.3C850.1 994.7 851.3 996.3 852.2 994.8C853.1 993.3 853.1 988 854 986.3C854.9 984.6 856.4 984 857.6 984.5C858.8 984.9 860.1 988.6 861.2 989C862.2 989.4 862.7 986.3 863.9 986.8C865.1 987.4 867 991.5 868.4 992.2C869.7 993 870.8 990.9 872 991.2C873.2 991.4 874.5 993.6 875.6 993.5C876.6 993.4 877.4 990 878.3 990.4C879.2 990.9 879.9 995.9 881 996.2C882 996.5 882.9 992.6 884.6 992.2C886.2 991.9 889.1 992.8 890.9 994C892.7 995.3 893.9 998.8 895.4 999.8C896.9 1000.8 898.4 999.6 899.9 1000.2C901.4 1000.7 903 1002.9 904.4 1003C905.7 1003.2 905.9 1001.3 908 1001.2C910.1 1001.1 914.6 1001.4 917 1002.5C919.4 1003.6 920 1007.3 922.4 1007.9C924.8 1008.5 928.4 1006.8 931.4 1006.1C934.4 1005.3 938.3 1003.8 940.4 1003.4C942.5 1003 942.8 1004.1 944 1003.8C945.2 1003.5 945.5 1000.9 947.6 1001.6C949.7 1002.3 953.9 1007.8 956.6 1007.9C959.3 1008 962 1002.3 963.8 1002C965.6 1001.6 965.7 1005.5 967.4 1005.6C969 1005.6 972 1002.5 973.7 1002.5C975.3 1002.5 976.2 1005.5 977.3 1005.6C978.3 1005.6 978.5 1002.4 980 1003C981.5 1003.6 984.8 1008.6 986.3 1009.2C987.8 1009.7 987.8 1009.6 989 1006.1C990.2 1002.6 992.3 991.4 993.5 988.1C994.7 985.3 995.1 986.2 996.2 986.3C997.2 986.4 998.1 988.5 999.8 988.6C1001.4 988.8 1004.3 986.4 1006.1 987.2C1007.9 988 1008.9 991.7 1010.6 993.5C1012.2 995.3 1014.2 996.9 1016 998C1017.8 999.1 1019.6 1000 1021.4 1000.2C1023.2 1000.3 1025 997.9 1026.8 998.9C1028.6 1000.3 1030.1 1006.8 1032.2 1008.8C1034.2 1010.7 1037.4 1010.5 1039 1010.6C1040.7 1010.7 1040.9 1009.8 1042 1009.5C1043 1009.1 1044.1 1008.2 1045.2 1008.7C1046.3 1009.1 1047.5 1011.6 1048.6 1012.2C1049.7 1012.9 1050.8 1012.9 1051.9 1012.6C1053 1012.3 1054.1 1010.7 1055.2 1010.4C1056.3 1010.1 1057.4 1010.9 1058.5 1010.9C1059.6 1011 1060.8 1010.6 1061.9 1010.7C1062.9 1010.9 1063.9 1011.8 1065 1011.6C1066.1 1011.5 1067.2 1009.8 1068.3 1010C1069.4 1010.2 1070.5 1012.5 1071.6 1012.9C1072.7 1013.3 1073.8 1012.6 1074.9 1012.4C1076.1 1012.3 1077.1 1012.2 1078.2 1012.2C1079.3 1012.2 1080.5 1012.1 1081.6 1012.4C1082.7 1012.7 1083.7 1013.6 1084.8 1013.8C1085.9 1014 1086.9 1014.2 1088 1013.7C1089.1 1013.1 1090.2 1011.2 1091.3 1010.6C1092.4 1010.1 1093.6 1010.3 1094.6 1010.5C1095.7 1010.7 1096.8 1011.5 1097.9 1011.6C1099 1011.7 1100.2 1011.8 1101.3 1011.1C1102.4 1010.4 1103.4 1008 1104.5 1007.4C1105.6 1006.8 1106.7 1007.7 1107.8 1007.6C1108.9 1007.5 1110 1006.9 1111.1 1006.8C1112.2 1006.8 1113.4 1006.8 1114.5 1007.2C1115.6 1007.6 1116.6 1008.5 1117.7 1009.4C1118.8 1010.2 1119.9 1012.3 1121 1012.4C1122.1 1012.5 1123.2 1010.8 1124.3 1010C1125.4 1009.2 1126.5 1008.3 1127.6 1007.4C1128.7 1006.4 1129.8 1004.4 1130.9 1004.4C1132 1004.5 1133.1 1007.1 1134.2 1007.6C1135.3 1008.1 1136.3 1007.6 1137.4 1007.5C1138.5 1007.5 1139.7 1007.3 1140.8 1007.3C1141.9 1007.3 1142.9 1007.4 1144 1007.6C1145.1 1007.8 1146.2 1008.4 1147.3 1008.4C1148.4 1008.5 1149.5 1008.5 1150.6 1007.9C1151.7 1007.3 1152.8 1005 1153.9 1004.9C1155 1004.7 1156.1 1006.6 1157.2 1007.1C1158.4 1007.6 1159.6 1008.7 1160.7 1007.7C1161.8 1006.6 1162.9 1001.1 1164 1000.5C1165.1 999.9 1166.2 1003.4 1167.3 1003.8C1168.4 1004.3 1169.5 1003.3 1170.6 1003C1171.7 1002.7 1172.8 1002.2 1173.9 1002C1175 1001.7 1176 1001.4 1177.1 1001.6C1178.2 1001.9 1179.3 1002.9 1180.4 1003.3C1181.6 1003.6 1182.7 1004.3 1183.8 1003.6C1184.9 1002.9 1186 999.8 1187.1 999.2C1188.2 998.6 1189.3 999.6 1190.4 1000C1191.5 1000.4 1192.6 1001.4 1193.6 1001.6C1194.7 1001.8 1195.8 1000.2 1196.7 1001.2C1197.6 1002.6 1198.2 1008.8 1199.1 1010.3C1200 1011.3 1201.1 1009.1 1202.1 1010.1C1203.1 1011.8 1204.2 1018.3 1205.3 1020.5C1206.4 1022.7 1207.4 1022.9 1208.5 1023.3C1209.6 1023.7 1210.8 1022.7 1211.9 1022.9C1212.9 1023 1214 1023.9 1215.1 1024C1216.2 1024.2 1217.3 1023.5 1218.4 1023.8C1219.5 1024 1220.7 1025.8 1221.8 1025.8C1222.9 1025.8 1224 1024 1225.1 1023.8C1226.2 1023.6 1227.4 1024.4 1228.5 1024.7C1229.6 1025 1230.6 1025.3 1231.7 1025.5C1232.8 1025.8 1233.9 1026.2 1235 1026.2C1236.1 1026.2 1237.2 1026.2 1238.3 1025.4C1239.4 1024.6 1240.5 1021.9 1241.6 1021.6C1242.7 1021.2 1243.8 1023.1 1244.9 1023.3C1246 1023.5 1247 1024.3 1248.1 1022.8C1249.2 1019.1 1250.4 1006.1 1251.5 1001.2C1252.6 996.3 1253.7 995.1 1254.9 993.3C1256 991.5 1257 990.8 1258.1 990.3C1259.2 989.8 1260.2 990.4 1261.3 990.2C1262.4 989.9 1263.5 989.1 1264.6 988.7C1265.7 988.3 1266.9 987.5 1267.9 987.8C1269 988 1270.1 989.3 1271.2 990.1C1272.3 990.9 1273.4 992.5 1274.5 992.5C1275.7 992.5 1276.7 990.2 1277.8 990.3C1278.9 990.3 1280 992.8 1281.2 992.8C1282.3 992.9 1283.4 990.8 1284.5 990.7C1285.6 990.5 1286.7 991.2 1287.8 991.9C1288.9 992.7 1289.9 994.6 1291 995C1292.1 995.4 1293.2 994.3 1294.3 994.2C1295.4 994.2 1296.5 994.9 1297.6 994.6C1298.7 994.3 1299.9 992.7 1301 992.5C1302.1 992.2 1303.1 992.4 1304.2 992.9C1305.3 993.5 1306.4 995.5 1307.5 995.8C1308.6 996.2 1309.7 994.6 1310.8 994.9C1311.9 995.2 1313 997 1314.1 997.6C1315.2 998.2 1316.3 998.8 1317.4 998.7C1318.5 998.6 1319.6 997.4 1320.7 997.1C1321.8 996.9 1322.9 997.3 1324 997.2C1325.1 997.1 1326.2 996.5 1327.3 996.8C1328.4 997.1 1329.5 998.5 1330.6 999.1C1331.7 999.6 1332.8 998.3 1333.9 999.8C1335 1001.3 1336.1 1007.1 1337.2 1008C1338.3 1009 1339.4 1006.3 1340.5 1005.7C1341.6 1005.1 1342.6 1003.9 1343.7 1004.3C1344.8 1004.7 1346 1007.8 1347.1 1008.1C1348.2 1008.4 1349.3 1006.4 1350.3 1006.2C1351.4 1006 1352.6 1007.2 1353.7 1007C1354.8 1006.8 1355.9 1004.4 1357 1004.9C1358.1 1005.4 1359.2 1010.2 1360.3 1009.8C1361.4 1009.5 1362.5 1003.5 1363.6 1002.7C1364.7 1002 1365.8 1005.2 1366.9 1005.1C1368 1005.1 1369.1 1003 1370.2 1002.5C1371.3 1002.1 1372.4 1003.6 1373.5 1002.7C1374.6 1001.7 1375.7 998.8 1376.8 996.7C1377.9 994.7 1379.5 991.3 1380 990.2L1380 1030L84 1030Z" fill="#ec973c" fill-opacity="0.05"/>
<path d="M84 995.3C84.8 994.9 87.3 992.2 89 993C90.7 993.7 92.3 998.8 94.4 999.8C96.5 1000.8 99.2 998.5 101.6 998.9C104 999.3 106.4 1000.9 108.8 1002C111.2 1003 113.4 1004.9 116 1005.2C118.5 1005.5 121.7 1003.3 124.1 1003.8C126.5 1004.2 128.6 1007.5 130.4 1007.9C132.2 1008.3 133.4 1005.1 134.9 1006.1C136.4 1007.2 137.7 1013.7 139.4 1014.6C141 1015.5 142.5 1011.7 144.8 1011.5C147 1011.3 150.8 1012.8 152.9 1013.3C155 1013.7 155.7 1014.8 157.4 1014.2C159 1013.6 160.5 1009.7 162.8 1009.7C165 1009.7 168.2 1013.7 170.9 1014.2C173.6 1014.6 175.8 1013.1 179 1012.4C182.1 1011.7 187.1 1011.1 189.8 1010.2C192.5 1009.3 193.7 1007.4 195.2 1007C196.7 1006.6 197.3 1008.3 198.8 1007.9C200.3 1007.4 201.8 1005.2 204.2 1004.3C206.6 1003.4 210.9 1004 213.2 1002.5C215.4 1001 215.9 996.2 217.7 995.3C219.5 994.4 222 996.2 224 997.1C225.9 998 227.7 1000.7 229.4 1000.7C231 1000.7 232.5 997.4 233.9 997.1C235.2 996.8 236.3 999 237.5 998.9C238.7 998.7 239.6 996.6 241.1 996.2C242.6 995.7 245 997.2 246.5 996.2C248 995.2 248.7 990.4 250.1 990.3C251.4 990.1 253.2 994.8 254.6 995.3C255.9 995.8 257 993.6 258.2 993.5C259.4 993.4 260.3 995 261.8 994.9C263.3 994.8 265.7 993 267.2 993C268.7 993 269.6 995.6 270.8 994.9C272 994.3 272.9 992.5 274.4 989C275.9 985.5 278.1 975.3 279.8 974.1C281.4 973.1 282.6 980.2 284.3 981.8C285.9 983.4 288.2 984.2 289.7 983.6C291.2 983 291.9 977.9 293.3 978.2C294.6 978.5 295.8 984.5 297.8 985.4C299.7 986.3 302.4 982.8 305 983.6C307.5 984.4 310.7 991.4 313.1 990.4C315.5 989.2 317.7 977.5 319.4 976.4C321 975.4 321.8 983.1 323 984C324.2 984.8 325.4 981.5 326.6 981.4C327.8 981.4 328.7 984.3 330.2 983.6C331.7 982.9 333.9 978.2 335.6 977.3C337.2 976.4 338.9 979.2 340.1 978.2C341.3 976.2 341.7 967.2 342.8 965.2C343.8 964.2 344.9 967.3 346.4 966.5C347.9 965.7 350.1 960.3 351.8 960.6C353.4 960.8 354.9 967.2 356.3 967.8C357.6 968.4 358.7 964.4 359.9 964.2C361.1 963.9 362.4 966.3 363.5 966.5C364.5 966.7 365.1 964.7 366.2 965.2C367.2 965.7 368.4 969 369.8 969.6C371.1 970.1 372.6 967.6 374.3 968.3C375.9 969 377.7 973.4 379.7 973.7C381.6 974 384 970.2 386 970.1C387.9 970 389.7 971.5 391.4 973.2C393 974.8 394.2 979 395.9 980C397.5 981 399.3 978.1 401.3 979.1C403.2 981 405.3 989.5 407.6 991.7C409.8 993.2 412.8 991.7 414.8 992.2C416.7 992.7 417.8 994.6 419.3 994.8C420.8 994.9 421.8 992.3 423.8 993C425.7 993.6 428.3 998.2 431 998.9C433.7 999.6 437.6 997.1 440 997.1C442.4 997.1 444 998.9 445.4 998.9C446.7 998.9 447 996.6 448.1 997.1C449.1 997.6 450.5 1001.6 451.7 1002C452.9 1002.3 453.6 999.6 455.3 999.4C456.9 999.2 459.6 1000.2 461.6 1000.7C463.5 1001.2 465.6 1002.3 467 1002.5C468.3 1002.6 468.9 1001 469.7 1001.6C470.5 1002.2 471.1 1005.9 472 1006.1C472.9 1006.3 474 1003.6 475.1 1003C476.2 1002.4 477.5 1004 478.7 1002.5C479.9 1000.8 481.1 995.3 482.3 992.6C483.5 989.9 484.7 987 485.9 986.3C487.1 985.5 488 986.6 489.5 988.1C491 989.6 493.4 994.7 494.9 995.3C496.4 995.9 497.1 992.2 498.5 991.7C499.8 991.2 501.2 991.3 503 992.2C504.8 993.1 507.3 996.1 509.3 997.1C511.2 998.1 513.3 998.7 514.7 998.4C516.1 998.1 516.7 994.8 517.8 995.3C518.8 995.8 519.7 1001.1 521 1001.6C522.3 1002.1 523.7 998.2 525.5 998.4C527.3 998.5 530.1 1001.9 531.8 1002.5C533.4 1003.1 533.9 1001.5 535.4 1002C536.9 1002.4 539 1005.2 540.8 1005.2C542.6 1005.2 544.5 1002.7 546.2 1002C547.9 1001.2 549.7 999.9 551.2 1000.7C552.7 1001.5 553.3 1006.1 555.2 1007C557.1 1007.9 560.3 1005.9 562.4 1006.1C564.5 1006.2 566.4 1008.2 567.8 1007.9C569.1 1007.6 569.4 1004.1 570.5 1004.3C571.5 1004.5 572.9 1008.7 574.1 1009.2C575.3 1009.6 576.5 1006.9 577.7 1007C578.9 1007.1 579.9 1009.5 581.3 1009.7C582.6 1009.8 583.8 1007.5 585.8 1007.9C587.7 1008.3 591.2 1011.5 593 1012C594.8 1012.5 595.4 1010.4 596.6 1011C597.8 1011.5 599 1015 600.2 1015.1C601.4 1015.2 602.1 1012.2 603.8 1011.5C605.4 1010.7 608.1 1010.3 610.1 1010.6C612 1010.9 613.2 1013 615.5 1013.3C617.7 1013.6 621.3 1012.6 623.6 1012.4C625.8 1012.2 627 1012.1 629 1012C630.9 1012 633.5 1011.7 635.3 1012C637.1 1012.3 637.8 1013.8 639.8 1013.8C641.7 1013.8 644.9 1011.8 647 1012C649.1 1012.2 650.3 1014.5 652.4 1015.1C654.5 1015.7 657.2 1015.9 659.6 1015.6C662 1015.3 664.5 1014.7 666.8 1013.3C669 1011.9 671.6 1007.5 673.1 1007C674.6 1006.5 674.7 1010.4 675.8 1010.2C676.8 1010.1 677.3 1007.5 679.4 1006.1C681.5 1004.7 685.1 1004.4 688.4 1002C691.7 999.5 696.8 993 699.2 991.2C701.6 990.2 701.3 992 702.8 991.2C704.3 990.3 706.4 988.5 708.2 986.3C710 984.1 711.9 979.3 713.6 977.8C715.2 976.3 716.1 976.3 718.1 977.3C720 978.4 723.6 984.2 725.3 984.5C726.9 984.8 726.3 980.4 728 979.1C729.6 977.7 732.8 977.9 735.2 976.4C737.6 974.9 740.6 969.7 742.4 970.1C744.2 970.5 744.8 978.2 746 978.6C747.2 978.9 747.8 972.4 749.6 972.4C751.4 972.4 755 978 756.8 978.6C758.6 979.2 758.9 976.3 760.4 976C761.9 975.7 764.1 975.8 765.8 976.8C767.4 977.7 768.5 981.9 770.3 981.8C772.1 981.7 774.5 976.9 776.6 976.4C778.7 975.9 780.8 978.7 782.9 978.6C785 978.4 787.1 975.6 789.2 975.5C791.3 975.4 793.7 977.6 795.5 978.2C797.3 978.8 798.5 979.1 800 979.1C801.5 979.1 803.1 977.7 804.5 978.2C805.8 978.6 806.9 981.6 808.1 981.8C809.3 981.9 810.5 979.7 811.7 979.1C812.9 978.5 814.2 977.2 815.3 978.2C816.3 980 816.9 988.8 818 989.9C819 990.9 820.4 984.3 821.6 984.5C822.8 984.7 823.5 989.1 825.2 991.2C826.8 993.3 829.5 996.6 831.5 997.1C833.4 997.6 834.9 994.2 836.9 994.4C838.8 994.6 841.2 998.2 843.2 998.4C845.1 998.5 847.1 995.9 848.6 995.3C850.1 994.7 851.3 996.3 852.2 994.8C853.1 993.3 853.1 988 854 986.3C854.9 984.6 856.4 984 857.6 984.5C858.8 984.9 860.1 988.6 861.2 989C862.2 989.4 862.7 986.3 863.9 986.8C865.1 987.4 867 991.5 868.4 992.2C869.7 993 870.8 990.9 872 991.2C873.2 991.4 874.5 993.6 875.6 993.5C876.6 993.4 877.4 990 878.3 990.4C879.2 990.9 879.9 995.9 881 996.2C882 996.5 882.9 992.6 884.6 992.2C886.2 991.9 889.1 992.8 890.9 994C892.7 995.3 893.9 998.8 895.4 999.8C896.9 1000.8 898.4 999.6 899.9 1000.2C901.4 1000.7 903 1002.9 904.4 1003C905.7 1003.2 905.9 1001.3 908 1001.2C910.1 1001.1 914.6 1001.4 917 1002.5C919.4 1003.6 920 1007.3 922.4 1007.9C924.8 1008.5 928.4 1006.8 931.4 1006.1C934.4 1005.3 938.3 1003.8 940.4 1003.4C942.5 1003 942.8 1004.1 944 1003.8C945.2 1003.5 945.5 1000.9 947.6 1001.6C949.7 1002.3 953.9 1007.8 956.6 1007.9C959.3 1008 962 1002.3 963.8 1002C965.6 1001.6 965.7 1005.5 967.4 1005.6C969 1005.6 972 1002.5 973.7 1002.5C975.3 1002.5 976.2 1005.5 977.3 1005.6C978.3 1005.6 978.5 1002.4 980 1003C981.5 1003.6 984.8 1008.6 986.3 1009.2C987.8 1009.7 987.8 1009.6 989 1006.1C990.2 1002.6 992.3 991.4 993.5 988.1C994.7 985.3 995.1 986.2 996.2 986.3C997.2 986.4 998.1 988.5 999.8 988.6C1001.4 988.8 1004.3 986.4 1006.1 987.2C1007.9 988 1008.9 991.7 1010.6 993.5C1012.2 995.3 1014.2 996.9 1016 998C1017.8 999.1 1019.6 1000 1021.4 1000.2C1023.2 1000.3 1025 997.9 1026.8 998.9C1028.6 1000.3 1030.1 1006.8 1032.2 1008.8C1034.2 1010.7 1037.4 1010.5 1039 1010.6C1040.7 1010.7 1040.9 1009.8 1042 1009.5C1043 1009.1 1044.1 1008.2 1045.2 1008.7C1046.3 1009.1 1047.5 1011.6 1048.6 1012.2C1049.7 1012.9 1050.8 1012.9 1051.9 1012.6C1053 1012.3 1054.1 1010.7 1055.2 1010.4C1056.3 1010.1 1057.4 1010.9 1058.5 1010.9C1059.6 1011 1060.8 1010.6 1061.9 1010.7C1062.9 1010.9 1063.9 1011.8 1065 1011.6C1066.1 1011.5 1067.2 1009.8 1068.3 1010C1069.4 1010.2 1070.5 1012.5 1071.6 1012.9C1072.7 1013.3 1073.8 1012.6 1074.9 1012.4C1076.1 1012.3 1077.1 1012.2 1078.2 1012.2C1079.3 1012.2 1080.5 1012.1 1081.6 1012.4C1082.7 1012.7 1083.7 1013.6 1084.8 1013.8C1085.9 1014 1086.9 1014.2 1088 1013.7C1089.1 1013.1 1090.2 1011.2 1091.3 1010.6C1092.4 1010.1 1093.6 1010.3 1094.6 1010.5C1095.7 1010.7 1096.8 1011.5 1097.9 1011.6C1099 1011.7 1100.2 1011.8 1101.3 1011.1C1102.4 1010.4 1103.4 1008 1104.5 1007.4C1105.6 1006.8 1106.7 1007.7 1107.8 1007.6C1108.9 1007.5 1110 1006.9 1111.1 1006.8C1112.2 1006.8 1113.4 1006.8 1114.5 1007.2C1115.6 1007.6 1116.6 1008.5 1117.7 1009.4C1118.8 1010.2 1119.9 1012.3 1121 1012.4C1122.1 1012.5 1123.2 1010.8 1124.3 1010C1125.4 1009.2 1126.5 1008.3 1127.6 1007.4C1128.7 1006.4 1129.8 1004.4 1130.9 1004.4C1132 1004.5 1133.1 1007.1 1134.2 1007.6C1135.3 1008.1 1136.3 1007.6 1137.4 1007.5C1138.5 1007.5 1139.7 1007.3 1140.8 1007.3C1141.9 1007.3 1142.9 1007.4 1144 1007.6C1145.1 1007.8 1146.2 1008.4 1147.3 1008.4C1148.4 1008.5 1149.5 1008.5 1150.6 1007.9C1151.7 1007.3 1152.8 1005 1153.9 1004.9C1155 1004.7 1156.1 1006.6 1157.2 1007.1C1158.4 1007.6 1159.6 1008.7 1160.7 1007.7C1161.8 1006.6 1162.9 1001.1 1164 1000.5C1165.1 999.9 1166.2 1003.4 1167.3 1003.8C1168.4 1004.3 1169.5 1003.3 1170.6 1003C1171.7 1002.7 1172.8 1002.2 1173.9 1002C1175 1001.7 1176 1001.4 1177.1 1001.6C1178.2 1001.9 1179.3 1002.9 1180.4 1003.3C1181.6 1003.6 1182.7 1004.3 1183.8 1003.6C1184.9 1002.9 1186 999.8 1187.1 999.2C1188.2 998.6 1189.3 999.6 1190.4 1000C1191.5 1000.4 1192.6 1001.4 1193.6 1001.6C1194.7 1001.8 1195.8 1000.2 1196.7 1001.2C1197.6 1002.6 1198.2 1008.8 1199.1 1010.3C1200 1011.3 1201.1 1009.1 1202.1 1010.1C1203.1 1011.8 1204.2 1018.3 1205.3 1020.5C1206.4 1022.7 1207.4 1022.9 1208.5 1023.3C1209.6 1023.7 1210.8 1022.7 1211.9 1022.9C1212.9 1023 1214 1023.9 1215.1 1024C1216.2 1024.2 1217.3 1023.5 1218.4 1023.8C1219.5 1024 1220.7 1025.8 1221.8 1025.8C1222.9 1025.8 1224 1024 1225.1 1023.8C1226.2 1023.6 1227.4 1024.4 1228.5 1024.7C1229.6 1025 1230.6 1025.3 1231.7 1025.5C1232.8 1025.8 1233.9 1026.2 1235 1026.2C1236.1 1026.2 1237.2 1026.2 1238.3 1025.4C1239.4 1024.6 1240.5 1021.9 1241.6 1021.6C1242.7 1021.2 1243.8 1023.1 1244.9 1023.3C1246 1023.5 1247 1024.3 1248.1 1022.8C1249.2 1019.1 1250.4 1006.1 1251.5 1001.2C1252.6 996.3 1253.7 995.1 1254.9 993.3C1256 991.5 1257 990.8 1258.1 990.3C1259.2 989.8 1260.2 990.4 1261.3 990.2C1262.4 989.9 1263.5 989.1 1264.6 988.7C1265.7 988.3 1266.9 987.5 1267.9 987.8C1269 988 1270.1 989.3 1271.2 990.1C1272.3 990.9 1273.4 992.5 1274.5 992.5C1275.7 992.5 1276.7 990.2 1277.8 990.3C1278.9 990.3 1280 992.8 1281.2 992.8C1282.3 992.9 1283.4 990.8 1284.5 990.7C1285.6 990.5 1286.7 991.2 1287.8 991.9C1288.9 992.7 1289.9 994.6 1291 995C1292.1 995.4 1293.2 994.3 1294.3 994.2C1295.4 994.2 1296.5 994.9 1297.6 994.6C1298.7 994.3 1299.9 992.7 1301 992.5C1302.1 992.2 1303.1 992.4 1304.2 992.9C1305.3 993.5 1306.4 995.5 1307.5 995.8C1308.6 996.2 1309.7 994.6 1310.8 994.9C1311.9 995.2 1313 997 1314.1 997.6C1315.2 998.2 1316.3 998.8 1317.4 998.7C1318.5 998.6 1319.6 997.4 1320.7 997.1C1321.8 996.9 1322.9 997.3 1324 997.2C1325.1 997.1 1326.2 996.5 1327.3 996.8C1328.4 997.1 1329.5 998.5 1330.6 999.1C1331.7 999.6 1332.8 998.3 1333.9 999.8C1335 1001.3 1336.1 1007.1 1337.2 1008C1338.3 1009 1339.4 1006.3 1340.5 1005.7C1341.6 1005.1 1342.6 1003.9 1343.7 1004.3C1344.8 1004.7 1346 1007.8 1347.1 1008.1C1348.2 1008.4 1349.3 1006.4 1350.3 1006.2C1351.4 1006 1352.6 1007.2 1353.7 1007C1354.8 1006.8 1355.9 1004.4 1357 1004.9C1358.1 1005.4 1359.2 1010.2 1360.3 1009.8C1361.4 1009.5 1362.5 1003.5 1363.6 1002.7C1364.7 1002 1365.8 1005.2 1366.9 1005.1C1368 1005.1 1369.1 1003 1370.2 1002.5C1371.3 1002.1 1372.4 1003.6 1373.5 1002.7C1374.6 1001.7 1375.7 998.8 1376.8 996.7C1377.9 994.7 1379.5 991.3 1380 990.2" fill="none" stroke="#ec973c" stroke-width="2.1" stroke-linejoin="round"/>
<path d="M1616.2 1006.5C1616.7 1006.2 1618.4 1004.4 1619.5 1004.3C1620.6 1004.3 1621.7 1006.1 1622.8 1006.2C1623.8 1006.4 1625 1005.6 1626.1 1005.3C1627.2 1004.9 1628.3 1004.6 1629.4 1003.9C1630.5 1003.3 1631.6 1001.8 1632.7 1001.2C1633.8 1000.5 1634.9 1000.9 1636 999.9C1637.1 998.9 1638.1 997.3 1639.2 995.3C1640.3 993.3 1641.5 990.8 1642.6 988C1643.7 985.2 1644.8 980.4 1645.9 978.5C1647 976.7 1648.1 977 1649.2 977C1650.2 977.1 1651.3 978.5 1652.4 978.9C1653.5 979.2 1654.6 980 1655.7 979.2C1656.8 978.5 1657.9 975.6 1659 974.4C1660.1 973.1 1661.2 973 1662.3 971.7C1663.4 970.3 1664.6 967.3 1665.7 966C1666.8 964.7 1667.8 962.9 1668.9 963.9C1670 964.9 1671.1 971.2 1672.2 972C1673.3 972.7 1674.4 969 1675.5 968.4C1676.6 967.9 1677.8 968.3 1678.9 968.4C1680 968.5 1681.1 967.9 1682.2 968.9C1683.3 970 1684.4 973.9 1685.5 974.7C1686.6 975.5 1687.6 973.8 1688.7 973.6C1689.8 973.4 1690.9 973.9 1692 973.6C1693.1 973.3 1694.2 972.2 1695.3 971.8C1696.4 971.4 1697.5 970.2 1698.6 971.1C1699.7 972.1 1700.9 977.4 1702 977.8C1703.1 978.1 1704.2 973.6 1705.3 973.4C1706.4 973.1 1707.4 975.3 1708.5 976.3C1709.6 977.4 1710.7 979.4 1711.8 979.6C1712.9 979.9 1714 978.6 1715.1 977.6C1716.2 976.6 1717.3 972.9 1718.4 973.5C1719.5 974.1 1720.6 979.7 1721.7 981C1722.8 982.2 1724 981 1725.1 981.2C1726.2 981.5 1727.2 981.7 1728.3 982.4C1729.4 983.1 1730.5 984.9 1731.6 985.3C1732.7 985.8 1733.8 985.7 1734.9 985.2C1736 984.7 1737.1 982.9 1738.2 982.3C1739.3 981.7 1740.4 981.1 1741.5 981.5C1742.6 981.8 1743.8 983.5 1744.8 984.4C1745.9 985.2 1747 987.3 1748.1 986.7C1749.2 986.2 1750.3 982.1 1751.4 981.2C1752.5 980.4 1753.6 981.5 1754.7 981.6C1755.8 981.7 1756.9 981.2 1758 982.1C1759.1 982.9 1760.2 985.6 1761.3 986.6C1762.4 987.7 1763.5 987.9 1764.6 988.6C1765.7 989.3 1766.8 990.5 1767.9 990.9C1769 991.3 1770.1 990.2 1771.2 990.9C1772.3 991.5 1773.4 994.7 1774.5 994.6C1775.6 994.6 1776.7 990.9 1777.8 990.6C1778.9 990.3 1780 992.8 1781.1 992.8C1782.2 992.8 1783.3 989.8 1784.4 990.6C1785.5 991.4 1786.6 996.9 1787.7 997.5C1788.8 998.1 1789.9 994.6 1791 994.4C1792.1 994.2 1793.2 995.9 1794.3 996.2C1795.4 996.6 1796.5 996.1 1797.6 996.6C1798.7 997.1 1799.8 998.8 1800.9 999.4C1801.9 1000 1803 1000 1804.1 1000.3C1805.2 1000.5 1806.3 1000.5 1807.4 1000.9C1808.5 1001.3 1809.6 1002.5 1810.7 1002.7C1811.8 1002.8 1812.9 1001.9 1814.1 1001.9C1815.2 1001.8 1816.3 1002.7 1817.5 1002.7C1818.6 1002.7 1819.6 1001.9 1820.7 1001.9C1821.8 1001.9 1823 1002.4 1824.1 1002.7C1825.2 1003 1826.3 1003.5 1827.4 1003.6C1828.5 1003.7 1829.5 1003.3 1830.6 1003.4C1831.7 1003.5 1832.9 1003.9 1834 1004.3C1835.1 1004.7 1836.2 1006 1837.3 1006C1838.4 1006 1839.5 1005 1840.6 1004.4C1841.7 1003.8 1842.8 1002.6 1843.9 1002.4C1845 1002.1 1846.1 1002.7 1847.2 1002.9C1848.3 1003.1 1849.4 1003.7 1850.5 1003.6C1851.6 1003.6 1852.7 1002.9 1853.7 1002.8C1854.8 1002.6 1856 1002.6 1857.1 1002.7C1858.2 1002.7 1859.3 1003.2 1860.4 1003.3C1861.5 1003.4 1862.6 1002.9 1863.7 1003.3C1864.8 1003.6 1865.9 1005.6 1867 1005.3C1868.1 1005.1 1869.2 1001.2 1870.3 1001.6C1871.4 1001.9 1872.5 1006.6 1873.6 1007.5C1874.7 1008.3 1875.8 1007.3 1876.9 1006.8C1878 1006.3 1879.1 1004.7 1880.2 1004.4C1881.3 1004 1882.4 1004.6 1883.5 1004.6C1884.6 1004.6 1885.7 1004.7 1886.8 1004.4C1887.9 1004.1 1889 1003 1890.1 1002.8C1891.2 1002.5 1892.3 1002.4 1893.4 1002.9C1894.5 1003.4 1895.6 1005.7 1896.7 1005.9C1897.8 1006.2 1898.9 1004.4 1900 1004.4C1901.1 1004.5 1902.2 1006.6 1903.3 1006.3C1904.4 1006 1905.5 1002.7 1906.6 1002.6C1907.7 1002.4 1908.8 1004.2 1909.9 1005.3C1911 1006.4 1912.1 1008.8 1913.2 1009.2C1914.3 1009.6 1915.4 1007.6 1916.5 1007.6C1917.6 1007.6 1918.7 1009 1919.8 1009.2C1920.9 1009.3 1922 1007.9 1923.1 1008.3C1924.2 1008.8 1925.3 1012.1 1926.4 1011.9C1927.5 1011.7 1928.6 1008 1929.7 1007.2C1930.7 1006.4 1931.9 1006.4 1933 1007C1934.1 1007.6 1935.2 1010.5 1936.3 1010.6C1937.4 1010.8 1938.5 1008.4 1939.6 1008.1C1940.7 1007.7 1941.8 1008.3 1942.9 1008.5C1944 1008.8 1945.1 1009.3 1946.2 1009.5C1947.3 1009.6 1948.4 1009.6 1949.5 1009.4C1950.6 1009.1 1951.7 1008.4 1952.8 1007.8C1953.9 1007.3 1955 1006 1956.1 1006.2C1957.2 1006.4 1958.3 1008.6 1959.4 1009.3C1960.5 1010 1961.6 1010.4 1962.7 1010.5C1963.8 1010.6 1964.9 1009.6 1966 1010C1967.1 1010.4 1968.2 1012.3 1969.3 1013C1970.4 1013.7 1971.6 1014.3 1972.6 1014.1C1973.7 1013.9 1974.8 1011.8 1975.9 1011.8C1977 1011.8 1978.1 1013.9 1979.2 1014C1980.3 1014.1 1981.4 1012.1 1982.5 1012.5C1983.7 1012.9 1984.8 1015.5 1985.9 1016.3C1987 1017.1 1988.6 1017.1 1989.2 1017.2L1989.2 1030L1616.2 1030Z" fill="#ec973c" fill-opacity="0.05"/>
<path d="M1616.2 1006.5C1616.7 1006.2 1618.4 1004.4 1619.5 1004.3C1620.6 1004.3 1621.7 1006.1 1622.8 1006.2C1623.8 1006.4 1625 1005.6 1626.1 1005.3C1627.2 1004.9 1628.3 1004.6 1629.4 1003.9C1630.5 1003.3 1631.6 1001.8 1632.7 1001.2C1633.8 1000.5 1634.9 1000.9 1636 999.9C1637.1 998.9 1638.1 997.3 1639.2 995.3C1640.3 993.3 1641.5 990.8 1642.6 988C1643.7 985.2 1644.8 980.4 1645.9 978.5C1647 976.7 1648.1 977 1649.2 977C1650.2 977.1 1651.3 978.5 1652.4 978.9C1653.5 979.2 1654.6 980 1655.7 979.2C1656.8 978.5 1657.9 975.6 1659 974.4C1660.1 973.1 1661.2 973 1662.3 971.7C1663.4 970.3 1664.6 967.3 1665.7 966C1666.8 964.7 1667.8 962.9 1668.9 963.9C1670 964.9 1671.1 971.2 1672.2 972C1673.3 972.7 1674.4 969 1675.5 968.4C1676.6 967.9 1677.8 968.3 1678.9 968.4C1680 968.5 1681.1 967.9 1682.2 968.9C1683.3 970 1684.4 973.9 1685.5 974.7C1686.6 975.5 1687.6 973.8 1688.7 973.6C1689.8 973.4 1690.9 973.9 1692 973.6C1693.1 973.3 1694.2 972.2 1695.3 971.8C1696.4 971.4 1697.5 970.2 1698.6 971.1C1699.7 972.1 1700.9 977.4 1702 977.8C1703.1 978.1 1704.2 973.6 1705.3 973.4C1706.4 973.1 1707.4 975.3 1708.5 976.3C1709.6 977.4 1710.7 979.4 1711.8 979.6C1712.9 979.9 1714 978.6 1715.1 977.6C1716.2 976.6 1717.3 972.9 1718.4 973.5C1719.5 974.1 1720.6 979.7 1721.7 981C1722.8 982.2 1724 981 1725.1 981.2C1726.2 981.5 1727.2 981.7 1728.3 982.4C1729.4 983.1 1730.5 984.9 1731.6 985.3C1732.7 985.8 1733.8 985.7 1734.9 985.2C1736 984.7 1737.1 982.9 1738.2 982.3C1739.3 981.7 1740.4 981.1 1741.5 981.5C1742.6 981.8 1743.8 983.5 1744.8 984.4C1745.9 985.2 1747 987.3 1748.1 986.7C1749.2 986.2 1750.3 982.1 1751.4 981.2C1752.5 980.4 1753.6 981.5 1754.7 981.6C1755.8 981.7 1756.9 981.2 1758 982.1C1759.1 982.9 1760.2 985.6 1761.3 986.6C1762.4 987.7 1763.5 987.9 1764.6 988.6C1765.7 989.3 1766.8 990.5 1767.9 990.9C1769 991.3 1770.1 990.2 1771.2 990.9C1772.3 991.5 1773.4 994.7 1774.5 994.6C1775.6 994.6 1776.7 990.9 1777.8 990.6C1778.9 990.3 1780 992.8 1781.1 992.8C1782.2 992.8 1783.3 989.8 1784.4 990.6C1785.5 991.4 1786.6 996.9 1787.7 997.5C1788.8 998.1 1789.9 994.6 1791 994.4C1792.1 994.2 1793.2 995.9 1794.3 996.2C1795.4 996.6 1796.5 996.1 1797.6 996.6C1798.7 997.1 1799.8 998.8 1800.9 999.4C1801.9 1000 1803 1000 1804.1 1000.3C1805.2 1000.5 1806.3 1000.5 1807.4 1000.9C1808.5 1001.3 1809.6 1002.5 1810.7 1002.7C1811.8 1002.8 1812.9 1001.9 1814.1 1001.9C1815.2 1001.8 1816.3 1002.7 1817.5 1002.7C1818.6 1002.7 1819.6 1001.9 1820.7 1001.9C1821.8 1001.9 1823 1002.4 1824.1 1002.7C1825.2 1003 1826.3 1003.5 1827.4 1003.6C1828.5 1003.7 1829.5 1003.3 1830.6 1003.4C1831.7 1003.5 1832.9 1003.9 1834 1004.3C1835.1 1004.7 1836.2 1006 1837.3 1006C1838.4 1006 1839.5 1005 1840.6 1004.4C1841.7 1003.8 1842.8 1002.6 1843.9 1002.4C1845 1002.1 1846.1 1002.7 1847.2 1002.9C1848.3 1003.1 1849.4 1003.7 1850.5 1003.6C1851.6 1003.6 1852.7 1002.9 1853.7 1002.8C1854.8 1002.6 1856 1002.6 1857.1 1002.7C1858.2 1002.7 1859.3 1003.2 1860.4 1003.3C1861.5 1003.4 1862.6 1002.9 1863.7 1003.3C1864.8 1003.6 1865.9 1005.6 1867 1005.3C1868.1 1005.1 1869.2 1001.2 1870.3 1001.6C1871.4 1001.9 1872.5 1006.6 1873.6 1007.5C1874.7 1008.3 1875.8 1007.3 1876.9 1006.8C1878 1006.3 1879.1 1004.7 1880.2 1004.4C1881.3 1004 1882.4 1004.6 1883.5 1004.6C1884.6 1004.6 1885.7 1004.7 1886.8 1004.4C1887.9 1004.1 1889 1003 1890.1 1002.8C1891.2 1002.5 1892.3 1002.4 1893.4 1002.9C1894.5 1003.4 1895.6 1005.7 1896.7 1005.9C1897.8 1006.2 1898.9 1004.4 1900 1004.4C1901.1 1004.5 1902.2 1006.6 1903.3 1006.3C1904.4 1006 1905.5 1002.7 1906.6 1002.6C1907.7 1002.4 1908.8 1004.2 1909.9 1005.3C1911 1006.4 1912.1 1008.8 1913.2 1009.2C1914.3 1009.6 1915.4 1007.6 1916.5 1007.6C1917.6 1007.6 1918.7 1009 1919.8 1009.2C1920.9 1009.3 1922 1007.9 1923.1 1008.3C1924.2 1008.8 1925.3 1012.1 1926.4 1011.9C1927.5 1011.7 1928.6 1008 1929.7 1007.2C1930.7 1006.4 1931.9 1006.4 1933 1007C1934.1 1007.6 1935.2 1010.5 1936.3 1010.6C1937.4 1010.8 1938.5 1008.4 1939.6 1008.1C1940.7 1007.7 1941.8 1008.3 1942.9 1008.5C1944 1008.8 1945.1 1009.3 1946.2 1009.5C1947.3 1009.6 1948.4 1009.6 1949.5 1009.4C1950.6 1009.1 1951.7 1008.4 1952.8 1007.8C1953.9 1007.3 1955 1006 1956.1 1006.2C1957.2 1006.4 1958.3 1008.6 1959.4 1009.3C1960.5 1010 1961.6 1010.4 1962.7 1010.5C1963.8 1010.6 1964.9 1009.6 1966 1010C1967.1 1010.4 1968.2 1012.3 1969.3 1013C1970.4 1013.7 1971.6 1014.3 1972.6 1014.1C1973.7 1013.9 1974.8 1011.8 1975.9 1011.8C1977 1011.8 1978.1 1013.9 1979.2 1014C1980.3 1014.1 1981.4 1012.1 1982.5 1012.5C1983.7 1012.9 1984.8 1015.5 1985.9 1016.3C1987 1017.1 1988.6 1017.1 1989.2 1017.2" fill="none" stroke="#ec973c" stroke-width="2.1" stroke-linejoin="round"/>
<path d="M84 957.5C153.3 957.5 349 957.5 500 957.5C651 957.5 907.3 957.2 990 957.4C1072.7 957.5 994.2 958.4 996.2 958.4C998.2 958.4 994.9 957.6 1002 957.4C1009.1 957.2 1032.4 957.4 1039 957.4C1045.6 957.4 1023.2 957.4 1041.6 957.4C1060 957.4 1127.1 957.4 1149.3 957.4C1171.5 957.3 1170.2 957.2 1174.7 957.3C1179.3 957.4 1175.8 958 1176.4 958C1177 958 1176 957.4 1178.2 957.3C1180.4 957.2 1187.2 957.2 1189.6 957.3C1192 957.4 1191.8 957.9 1192.7 958.1C1193.6 958.2 1193.9 958.1 1194.8 958.3C1195.7 958.4 1197.1 957.3 1197.9 958.9C1198.7 960.8 1199 966 1199.6 969.5C1200.1 973.1 1200.7 977.6 1201.2 980.1C1201.8 982.5 1202.3 982.8 1202.9 984.4C1203.4 986 1204 987.3 1204.5 989.5C1205.1 991.7 1205.7 994.7 1206.2 997.6C1206.7 1000.5 1207 1005.4 1207.6 1007C1208.2 1008 1208.9 1006.9 1209.8 1007C1210.7 1007 1211.8 1007.3 1213.1 1007.4C1214.5 1007.4 1216.9 1007.2 1217.9 1007.5C1219 1007.7 1219 1006.5 1219.5 1009C1220 1012 1220.4 1022.7 1220.9 1025.5C1221.4 1026.6 1221.8 1025.4 1222.6 1025.6C1223.5 1025.7 1221.5 1026.2 1225.9 1026.3C1230.3 1026.4 1244.9 1027.3 1249.1 1026.2C1253.2 1019.5 1250.2 996 1250.7 985.7C1251.2 975.4 1251.7 968.7 1252.2 964.3C1252.7 959.9 1253.2 960.3 1253.8 959.5C1254.4 958.7 1254.7 959.6 1255.5 959.4C1256.4 959.1 1258.2 958.1 1259 957.8C1259.9 957.6 1260 957.7 1260.5 957.8C1261 957.9 1261.6 958.3 1262.1 958.3C1262.7 958.3 1262.6 957.8 1263.8 957.7C1264.9 957.5 1265.7 957.5 1269 957.5C1272.3 957.4 1280.9 957.3 1283.6 957.4C1286.3 957.5 1284.6 958 1285.2 958C1285.8 958 1286.3 957.6 1287 957.5C1287.6 957.4 1288.2 957.4 1288.9 957.4C1289.7 957.4 1290.9 957.3 1291.7 957.4C1292.5 957.5 1290.8 957.8 1293.7 957.8C1296.6 957.9 1306.2 957.8 1308.9 957.7C1311.6 957.7 1307.4 957.5 1310.1 957.5C1312.8 957.4 1321.6 957.5 1325.1 957.5C1328.6 957.5 1329.5 957.6 1331.3 957.6C1333.2 957.7 1334.7 957.8 1336.3 957.9C1338 958 1338.4 958 1341.3 958C1344.2 958 1341.7 957.9 1353.8 957.8C1365.8 957.8 1383.7 957.8 1413.6 957.8C1443.5 957.8 1506.1 957.8 1533.3 957.8C1560.5 957.8 1555.9 957.8 1576.7 957.8C1597.5 957.7 1638.2 957.6 1658 957.6C1677.8 957.5 1685 957.5 1695.4 957.5C1705.8 957.4 1705.8 957.4 1720.3 957.4C1734.9 957.4 1766.4 957.5 1782.6 957.5C1798.9 957.5 1792.6 957.5 1817.6 957.4C1842.5 957.4 1912.3 957.4 1932.3 957.4C1952.2 957.5 1935.2 957.5 1937.2 957.5C1939.3 957.5 1942.6 957.5 1944.7 957.5C1946.8 957.5 1942.2 957.5 1949.7 957.4C1957.2 957.4 1983.2 957.4 1990 957.4L1990 1030L84 1030Z" fill="#33a02c" fill-opacity="0.05"/>
<path d="M84 957.5C153.3 957.5 349 957.5 500 957.5C651 957.5 907.3 957.2 990 957.4C1072.7 957.5 994.2 958.4 996.2 958.4C998.2 958.4 994.9 957.6 1002 957.4C1009.1 957.2 1032.4 957.4 1039 957.4C1045.6 957.4 1023.2 957.4 1041.6 957.4C1060 957.4 1127.1 957.4 1149.3 957.4C1171.5 957.3 1170.2 957.2 1174.7 957.3C1179.3 957.4 1175.8 958 1176.4 958C1177 958 1176 957.4 1178.2 957.3C1180.4 957.2 1187.2 957.2 1189.6 957.3C1192 957.4 1191.8 957.9 1192.7 958.1C1193.6 958.2 1193.9 958.1 1194.8 958.3C1195.7 958.4 1197.1 957.3 1197.9 958.9C1198.7 960.8 1199 966 1199.6 969.5C1200.1 973.1 1200.7 977.6 1201.2 980.1C1201.8 982.5 1202.3 982.8 1202.9 984.4C1203.4 986 1204 987.3 1204.5 989.5C1205.1 991.7 1205.7 994.7 1206.2 997.6C1206.7 1000.5 1207 1005.4 1207.6 1007C1208.2 1008 1208.9 1006.9 1209.8 1007C1210.7 1007 1211.8 1007.3 1213.1 1007.4C1214.5 1007.4 1216.9 1007.2 1217.9 1007.5C1219 1007.7 1219 1006.5 1219.5 1009C1220 1012 1220.4 1022.7 1220.9 1025.5C1221.4 1026.6 1221.8 1025.4 1222.6 1025.6C1223.5 1025.7 1221.5 1026.2 1225.9 1026.3C1230.3 1026.4 1244.9 1027.3 1249.1 1026.2C1253.2 1019.5 1250.2 996 1250.7 985.7C1251.2 975.4 1251.7 968.7 1252.2 964.3C1252.7 959.9 1253.2 960.3 1253.8 959.5C1254.4 958.7 1254.7 959.6 1255.5 959.4C1256.4 959.1 1258.2 958.1 1259 957.8C1259.9 957.6 1260 957.7 1260.5 957.8C1261 957.9 1261.6 958.3 1262.1 958.3C1262.7 958.3 1262.6 957.8 1263.8 957.7C1264.9 957.5 1265.7 957.5 1269 957.5C1272.3 957.4 1280.9 957.3 1283.6 957.4C1286.3 957.5 1284.6 958 1285.2 958C1285.8 958 1286.3 957.6 1287 957.5C1287.6 957.4 1288.2 957.4 1288.9 957.4C1289.7 957.4 1290.9 957.3 1291.7 957.4C1292.5 957.5 1290.8 957.8 1293.7 957.8C1296.6 957.9 1306.2 957.8 1308.9 957.7C1311.6 957.7 1307.4 957.5 1310.1 957.5C1312.8 957.4 1321.6 957.5 1325.1 957.5C1328.6 957.5 1329.5 957.6 1331.3 957.6C1333.2 957.7 1334.7 957.8 1336.3 957.9C1338 958 1338.4 958 1341.3 958C1344.2 958 1341.7 957.9 1353.8 957.8C1365.8 957.8 1383.7 957.8 1413.6 957.8C1443.5 957.8 1506.1 957.8 1533.3 957.8C1560.5 957.8 1555.9 957.8 1576.7 957.8C1597.5 957.7 1638.2 957.6 1658 957.6C1677.8 957.5 1685 957.5 1695.4 957.5C1705.8 957.4 1705.8 957.4 1720.3 957.4C1734.9 957.4 1766.4 957.5 1782.6 957.5C1798.9 957.5 1792.6 957.5 1817.6 957.4C1842.5 957.4 1912.3 957.4 1932.3 957.4C1952.2 957.5 1935.2 957.5 1937.2 957.5C1939.3 957.5 1942.6 957.5 1944.7 957.5C1946.8 957.5 1942.2 957.5 1949.7 957.4C1957.2 957.4 1983.2 957.4 1990 957.4" fill="none" stroke="#33a02c" stroke-width="2.1" stroke-linejoin="round"/>
<path d="M84 957.6C153.3 957.6 371 957.6 500 957.6C629 957.6 794.7 957.6 858 957.8C921.3 958 872.9 958.6 880 958.9C887.1 959.2 893.1 959.4 900.8 959.8C908.5 960.2 920 960.7 926 961.1C932 961.5 934.1 961.5 936.8 962C939.5 962.5 940.1 963.6 942.2 963.8C944.3 963.9 944.6 963.2 949.4 962.9C954.2 962.6 965.6 962.4 971 962C976.4 961.6 977.6 960.5 981.8 960.6C986 960.7 992 962.6 996.2 962.4C1000.4 962.2 999.9 960 1007 959.3C1014.1 958.6 1033 958.5 1039 958.4C1045 958.3 1041.7 958.6 1042.9 958.7C1044.1 958.7 1045.1 958.8 1046.2 958.8C1047.3 958.8 1048.4 958.6 1049.5 958.5C1050.6 958.5 1051.7 958.5 1052.8 958.5C1053.9 958.6 1055 958.8 1056.1 958.8C1057.2 958.8 1058.3 958.6 1059.4 958.5C1060.5 958.5 1061.6 958.4 1062.7 958.5C1063.8 958.5 1064.9 958.8 1066 958.8C1067.1 958.8 1068.2 958.6 1069.3 958.6C1070.4 958.6 1071.5 958.8 1072.6 958.8C1073.7 958.8 1074.8 958.8 1075.9 958.7C1077 958.6 1078.1 958.5 1079.2 958.4C1080.3 958.4 1081.4 958.5 1082.5 958.5C1083.6 958.4 1084.7 958.3 1085.8 958.3C1086.9 958.3 1088 958.4 1089.1 958.5C1090.2 958.5 1091.3 958.4 1092.4 958.5C1093.5 958.5 1094.6 958.6 1095.7 958.7C1096.8 958.7 1097.9 958.6 1099 958.6C1100.1 958.5 1101.2 958.5 1102.3 958.5C1103.4 958.5 1104.5 958.7 1105.6 958.8C1106.7 958.8 1107.8 958.9 1108.9 958.9C1110 958.9 1111.1 958.7 1112.2 958.7C1113.3 958.7 1114.4 958.8 1115.5 958.8C1116.6 958.8 1117.7 959 1118.8 958.9C1119.9 958.8 1121 958.5 1122.1 958.4C1123.2 958.4 1124.3 958.5 1125.4 958.5C1126.5 958.6 1127.6 958.7 1128.7 958.7C1129.8 958.7 1130.9 958.7 1132 958.7C1133.1 958.7 1134.2 958.9 1135.3 958.9C1136.4 959 1137.5 959 1138.6 959C1139.7 959 1140.8 958.9 1141.9 958.9C1143 958.9 1144.1 959.1 1145.2 959.1C1146.3 959.2 1147.4 959 1148.5 959C1149.6 958.9 1150.7 958.8 1151.8 958.8C1152.9 958.9 1154 959.1 1155.1 959.1C1156.2 959.2 1157.3 959.1 1158.4 959.1C1159.5 959.2 1160.6 959.4 1161.7 959.5C1162.8 959.5 1163.9 959.6 1165 959.5C1166.1 959.5 1167.2 959.3 1168.3 959.3C1169.4 959.3 1170.5 959.4 1171.6 959.5C1172.7 959.5 1173.8 959.6 1174.9 959.6C1176 959.6 1177.1 959.7 1178.2 959.7C1179.3 959.6 1180.4 959.5 1181.5 959.5C1182.6 959.5 1183.7 959.6 1184.8 959.7C1185.9 959.8 1187 959.4 1188.1 960C1189.2 960.5 1190.3 961.6 1191.4 963C1192.5 964.5 1193.6 963.5 1194.7 968.6C1195.8 973.8 1196.9 988.8 1198 993.9C1199.1 999.1 1200.2 996 1201.3 999.6C1202.4 1003.1 1203.5 1012 1204.6 1015.4C1205.7 1018.8 1206.8 1019.2 1207.8 1020C1208.9 1020.8 1210 1020.2 1211.1 1020.2C1212.2 1020.3 1213.3 1020.2 1214.4 1020.4C1215.5 1020.6 1216.6 1020.2 1217.7 1021.5C1218.8 1022.9 1219.9 1027.4 1221 1028.6C1222.1 1029.8 1223.2 1028.8 1224.3 1028.9C1225.4 1029 1226.5 1028.9 1227.6 1028.9C1228.7 1029 1229.8 1028.9 1230.9 1028.9C1232 1028.9 1233.1 1029 1234.2 1029C1235.3 1029 1236.4 1028.9 1237.5 1028.9C1238.6 1028.9 1239.7 1029 1240.8 1029C1241.9 1029 1243 1028.9 1244.1 1028.9C1245.2 1028.9 1246.3 1030 1247.4 1029C1248.5 1027.2 1249.6 1023 1250.7 1018.2C1251.8 1013.3 1252.9 1005.7 1254 1000C1255.1 994.4 1256.2 988.2 1257.3 984.3C1258.4 980.5 1259.5 978.8 1260.6 976.9C1261.7 975.1 1262.8 974.1 1263.9 973.1C1265 972.1 1266.1 971.6 1267.2 971C1268.3 970.3 1269.4 969.7 1270.5 969.3C1271.6 968.9 1272.7 968.7 1273.8 968.5C1274.9 968.2 1276 968.2 1277.1 967.8C1278.2 967.4 1279.3 966.3 1280.4 965.9C1281.5 965.5 1282.6 965.9 1283.7 965.6C1284.8 965.4 1285.9 964.7 1287 964.6C1288.1 964.4 1289.2 964.6 1290.3 964.5C1291.4 964.4 1292.5 964.4 1293.6 964.2C1294.7 964 1295.8 963.5 1296.9 963.3C1298 963.1 1299.1 963.1 1300.2 962.9C1301.3 962.6 1302.4 962.2 1303.5 961.9C1304.6 961.6 1305.7 961.6 1306.8 961.4C1307.9 961.1 1309 960.5 1310.1 960.4C1311.2 960.2 1312.3 960.2 1313.4 960.2C1314.5 960.2 1315.6 960.3 1316.7 960.2C1317.8 960.1 1318.9 959.7 1320 959.6C1321.1 959.5 1322.2 959.4 1323.3 959.4C1324.4 959.3 1325.5 959.5 1326.6 959.5C1327.7 959.4 1328.8 958.9 1329.9 958.9C1331 958.8 1332.1 959.1 1333.2 959.2C1334.3 959.3 1335.4 959.4 1336.5 959.5C1337.6 959.5 1338.7 959.5 1339.8 959.5C1340.9 959.5 1342 959.5 1343.1 959.5C1344.2 959.4 1345.3 959.4 1346.4 959.4C1347.5 959.3 1348.6 959.4 1349.7 959.4C1350.8 959.4 1351.9 959.5 1353 959.4C1354.1 959.4 1355.2 959.2 1356.3 959.1C1357.4 959.1 1358.5 959.2 1359.6 959.1C1360.7 959.1 1361.8 958.9 1362.9 958.8C1364 958.8 1365.1 958.8 1366.2 958.9C1367.3 958.9 1368.4 959 1369.5 959.1C1370.6 959.2 1371.7 959.4 1372.8 959.5C1373.9 959.6 1375 959.7 1376.1 959.7C1377.2 959.8 1378.3 959.5 1379.4 959.6C1380.5 959.7 1381.6 960.1 1382.7 960.2C1383.8 960.3 1384.9 960.3 1386 960.2C1387.1 960.1 1388.2 959.7 1389.3 959.7C1390.4 959.7 1391.5 960.2 1392.6 960.2C1393.7 960.2 1394.8 959.7 1395.9 959.7C1397 959.6 1398.1 959.8 1399.2 959.9C1400.3 959.9 1401.4 959.9 1402.5 959.9C1403.6 959.9 1404.7 959.8 1405.8 959.8C1406.9 959.9 1408 960 1409.1 960C1410.2 960 1411.3 960 1412.4 960C1413.5 959.9 1414.6 959.9 1415.7 959.8C1416.8 959.7 1417.9 959.3 1419 959.2C1420.1 959.2 1421.2 959.5 1422.3 959.6C1423.4 959.6 1424.5 959.6 1425.6 959.6C1426.7 959.7 1427.8 959.8 1428.9 959.9C1430 960 1431.1 960 1432.2 960C1433.3 960 1434.4 959.9 1435.5 959.8C1436.6 959.7 1437.7 959.4 1438.8 959.5C1439.9 959.5 1441 958.5 1442.1 960.2C1443.2 962.8 1444.3 974.5 1445.3 974.9C1446.4 975.3 1447.5 964.9 1448.6 962.5C1449.7 960.1 1450.8 960.8 1451.9 960.5C1453 960.2 1454.1 960.4 1455.2 960.5C1456.3 960.6 1457.4 959.5 1458.5 961.1C1459.6 963.6 1460.7 975.5 1461.8 975.7C1462.9 975.8 1464 964.3 1465.1 961.8C1466.2 959.7 1467.3 960.9 1468.4 960.7C1469.5 960.4 1470.6 960.3 1471.7 960.2C1472.8 960.2 1473.9 960.3 1475 960.3C1476.1 960.3 1477.2 960.5 1478.3 960.5C1479.4 960.5 1480.5 960.6 1481.6 960.4C1482.7 960.1 1483.8 959.2 1484.9 958.9C1486 958.6 1487.1 958.6 1488.2 958.6C1489.3 958.6 1490.4 958.7 1491.5 958.7C1492.6 958.7 1493.7 958.7 1494.8 958.6C1495.9 958.5 1497 958.2 1498.1 958.2C1499.2 958.1 1500.3 958.3 1501.4 958.4C1502.5 958.5 1503.6 958.6 1504.7 958.7C1505.8 958.7 1506.9 958.8 1508 958.8C1509.1 958.8 1510.2 958 1511.3 958.5C1512.4 959 1513.5 960.2 1514.6 961.7C1515.7 963.2 1516.8 966.6 1517.9 967.7C1519 968.8 1520.1 969.5 1521.2 968.5C1522.3 967.2 1523.4 961.5 1524.5 960C1525.6 958.4 1526.7 959.4 1527.8 959.2C1528.9 959 1530 958.9 1531.1 958.8C1532.2 958.7 1533.3 958.7 1534.4 958.7C1535.5 958.6 1536.6 958.6 1537.7 958.6C1538.8 958.6 1539.9 958.6 1541 958.6C1542.1 958.6 1543.2 958.5 1544.3 958.5C1545.4 958.5 1546.5 958.6 1547.6 958.6C1548.7 958.6 1549.8 958.5 1550.9 958.5C1552 958.5 1553.1 958.4 1554.2 958.4C1555.3 958.4 1556.4 958.6 1557.5 958.6C1558.6 958.6 1559.7 958.6 1560.8 958.5C1561.9 958.5 1563 958.3 1564.1 958.3C1565.2 958.4 1566.3 958.7 1567.4 958.8C1568.5 958.9 1569.6 958.8 1570.7 958.7C1571.8 958.7 1572.9 958.7 1574 958.7C1575.1 958.6 1576.2 958.4 1577.3 958.3C1578.4 958.3 1579.5 958.5 1580.6 958.5C1581.7 958.5 1582.8 958.3 1583.9 958.3C1585 958.3 1586.1 958.5 1587.2 958.5C1588.3 958.5 1589.4 958.4 1590.5 958.4C1591.6 958.3 1592.7 958.2 1593.8 958.2C1594.9 958.2 1596 958.3 1597.1 958.3C1598.2 958.4 1599.3 958.4 1600.4 958.4C1601.5 958.4 1602.6 958.4 1603.7 958.4C1604.8 958.4 1605.9 958.5 1607 958.5C1608.1 958.5 1609.2 958.3 1610.3 958.3C1611.4 958.2 1612.5 958.3 1613.6 958.2C1614.7 958.2 1615.8 958 1616.9 958C1618 958 1619.1 958.1 1620.2 958.2C1621.3 958.3 1622.4 958.4 1623.5 958.4C1624.6 958.5 1625.7 958.4 1626.8 958.5C1627.9 958.5 1629 958.5 1630.1 958.5C1631.2 958.5 1632.3 958.3 1633.4 958.3C1634.5 958.2 1635.6 958.3 1636.7 958.3C1637.8 958.3 1638.9 958.2 1640 958.2C1641.1 958.1 1642.2 957.9 1643.3 957.9C1644.4 957.9 1645.5 958.3 1646.6 958.3C1647.7 958.3 1648.8 958.1 1649.9 958.1C1651 958.1 1652.1 958.3 1653.2 958.3C1654.3 958.4 1655.4 958.3 1656.5 958.4C1657.6 958.4 1658.7 958.4 1659.8 958.4C1660.9 958.3 1662 958.2 1663.1 958.2C1664.2 958.1 1665.3 958.1 1666.4 958.1C1667.5 958.1 1668.6 958.1 1669.7 958.1C1670.8 958.2 1671.9 958.2 1673 958.2C1674.1 958.2 1675.2 958.3 1676.3 958.2C1677.4 958.2 1678.5 958.2 1679.6 958.1C1680.7 958.1 1681.8 957.9 1682.8 957.9C1683.9 958 1685 958.1 1686.1 958.2C1687.2 958.2 1688.3 958.3 1689.4 958.3C1690.5 958.3 1691.6 958.2 1692.7 958.2C1693.8 958.2 1694.9 958.1 1696 958.1C1697.1 958.1 1698.2 958.3 1699.3 958.3C1700.4 958.3 1701.5 958.1 1702.6 958C1703.7 958 1704.8 958.1 1705.9 958.1C1707 958.1 1708.1 958 1709.2 958C1710.3 958 1711.4 958.1 1712.5 958.1C1713.6 958.1 1714.7 958.2 1715.8 958.2C1716.9 958.2 1718 958 1719.1 958C1720.2 958 1721.3 958.1 1722.4 958.1C1723.5 958.1 1724.6 958 1725.7 958C1726.8 958.1 1727.9 958.3 1729 958.4C1730.1 958.4 1731.2 958.2 1732.3 958.1C1733.4 958.1 1734.5 958.2 1735.6 958.1C1736.7 958.1 1737.8 958 1738.9 957.9C1740 957.9 1741.1 958.1 1742.2 958.1C1743.3 958.1 1744.4 958 1745.5 957.9C1746.6 957.9 1747.7 958 1748.8 958C1749.9 958 1751 958.1 1752.1 958.2C1753.2 958.2 1754.3 958.1 1755.4 958.1C1756.5 958.1 1757.6 958.1 1758.7 958.1C1759.8 958.1 1760.9 958 1762 958.1C1763.1 958.1 1764.2 958.3 1765.3 958.3C1766.4 958.3 1767.5 958.1 1768.6 958.1C1769.7 958.1 1770.8 958.3 1771.9 958.2C1773 958.2 1774.1 958.1 1775.2 958.1C1776.3 958 1777.4 957.8 1778.5 957.8C1779.6 957.8 1780.7 958 1781.8 958C1782.9 958.1 1784 958.2 1785.1 958.2C1786.2 958.2 1787.3 958 1788.4 958C1789.5 958 1790.6 958 1791.7 958C1792.8 958 1793.9 958 1795 958C1796.1 958 1797.2 958 1798.3 957.9C1799.4 957.9 1800.5 957.7 1801.6 957.7C1802.7 957.6 1803.8 957.8 1804.9 957.9C1806 958 1807.1 958.2 1808.2 958.2C1809.3 958.2 1810.4 958 1811.5 958C1812.6 957.9 1813.7 957.8 1814.8 957.8C1815.9 957.7 1817 957.6 1818.1 957.7C1819.2 957.7 1820.3 957.8 1821.4 957.9C1822.5 958 1823.6 958 1824.7 958C1825.8 958.1 1826.9 958 1828 958C1829.1 957.9 1830.2 957.8 1831.3 957.8C1832.4 957.7 1833.5 957.9 1834.6 957.9C1835.7 957.9 1836.8 957.7 1837.9 957.7C1839 957.7 1840.1 957.9 1841.2 958C1842.3 958 1843.4 958.1 1844.5 958.1C1845.6 958.1 1846.7 958 1847.8 958C1848.9 958 1850 958 1851.1 958C1852.2 958 1853.3 958.1 1854.4 958C1855.5 958 1856.6 957.9 1857.7 957.9C1858.8 957.9 1859.9 958 1861 958C1862.1 958 1863.2 958 1864.3 958C1865.4 958.1 1866.5 958.1 1867.6 958.2C1868.7 958.2 1869.8 958.4 1870.9 958.4C1872 958.4 1873.1 958.2 1874.2 958.1C1875.3 958.1 1876.4 957.9 1877.5 957.9C1878.6 958 1879.7 958.4 1880.8 958.5C1881.9 958.6 1883 958.6 1884.1 958.7C1885.2 958.7 1886.3 958.8 1887.4 958.8C1888.5 958.8 1889.6 958.9 1890.7 958.9C1891.8 958.9 1892.9 959 1894 958.9C1895.1 958.9 1896.2 958.7 1897.3 958.6C1898.4 958.4 1899.5 958.3 1900.6 958.3C1901.7 958.2 1902.8 958.1 1903.9 958.1C1905 958 1906.1 958.1 1907.2 958.1C1908.3 958.2 1909.4 958.3 1910.5 958.3C1911.6 958.2 1912.7 958.1 1913.8 958.1C1914.9 958.1 1916 958.2 1917.1 958.3C1918.2 958.3 1919.3 958.3 1920.3 958.3C1921.4 958.3 1922.5 958.2 1923.6 958.2C1924.7 958.2 1925.8 958.4 1926.9 958.3C1928 958.3 1929.1 957.9 1930.2 957.9C1931.3 957.8 1932.4 958 1933.5 958.1C1934.6 958.2 1935.7 958.2 1936.8 958.3C1937.9 958.3 1939 958.2 1940.1 958.2C1941.2 958.2 1942.3 958.3 1943.4 958.3C1944.5 958.3 1945.6 958.1 1946.7 958C1947.8 958 1948.9 958 1950 958C1951.1 958 1952.2 957.9 1953.3 957.9C1954.4 957.9 1955.5 958.1 1956.6 958C1957.7 958 1958.8 957.8 1959.9 957.7C1961 957.7 1962.1 957.7 1963.2 957.8C1964.3 957.8 1965.4 957.7 1966.5 957.8C1967.6 957.8 1968.7 958.2 1969.8 958.2C1970.9 958.2 1972 957.9 1973.1 957.8C1974.2 957.7 1975.3 957.7 1976.4 957.7C1977.5 957.7 1978.6 957.8 1979.7 957.8C1980.8 957.9 1981.9 958 1983 957.9C1984.1 957.9 1985 957.7 1986.3 957.6C1987.7 957.6 1990.2 957.6 1991 957.6L1991 1030L84 1030Z" fill="#1f78b4" fill-opacity="0.05"/>
<path d="M84 957.6C153.3 957.6 371 957.6 500 957.6C629 957.6 794.7 957.6 858 957.8C921.3 958 872.9 958.6 880 958.9C887.1 959.2 893.1 959.4 900.8 959.8C908.5 960.2 920 960.7 926 961.1C932 961.5 934.1 961.5 936.8 962C939.5 962.5 940.1 963.6 942.2 963.8C944.3 963.9 944.6 963.2 949.4 962.9C954.2 962.6 965.6 962.4 971 962C976.4 961.6 977.6 960.5 981.8 960.6C986 960.7 992 962.6 996.2 962.4C1000.4 962.2 999.9 960 1007 959.3C1014.1 958.6 1033 958.5 1039 958.4C1045 958.3 1041.7 958.6 1042.9 958.7C1044.1 958.7 1045.1 958.8 1046.2 958.8C1047.3 958.8 1048.4 958.6 1049.5 958.5C1050.6 958.5 1051.7 958.5 1052.8 958.5C1053.9 958.6 1055 958.8 1056.1 958.8C1057.2 958.8 1058.3 958.6 1059.4 958.5C1060.5 958.5 1061.6 958.4 1062.7 958.5C1063.8 958.5 1064.9 958.8 1066 958.8C1067.1 958.8 1068.2 958.6 1069.3 958.6C1070.4 958.6 1071.5 958.8 1072.6 958.8C1073.7 958.8 1074.8 958.8 1075.9 958.7C1077 958.6 1078.1 958.5 1079.2 958.4C1080.3 958.4 1081.4 958.5 1082.5 958.5C1083.6 958.4 1084.7 958.3 1085.8 958.3C1086.9 958.3 1088 958.4 1089.1 958.5C1090.2 958.5 1091.3 958.4 1092.4 958.5C1093.5 958.5 1094.6 958.6 1095.7 958.7C1096.8 958.7 1097.9 958.6 1099 958.6C1100.1 958.5 1101.2 958.5 1102.3 958.5C1103.4 958.5 1104.5 958.7 1105.6 958.8C1106.7 958.8 1107.8 958.9 1108.9 958.9C1110 958.9 1111.1 958.7 1112.2 958.7C1113.3 958.7 1114.4 958.8 1115.5 958.8C1116.6 958.8 1117.7 959 1118.8 958.9C1119.9 958.8 1121 958.5 1122.1 958.4C1123.2 958.4 1124.3 958.5 1125.4 958.5C1126.5 958.6 1127.6 958.7 1128.7 958.7C1129.8 958.7 1130.9 958.7 1132 958.7C1133.1 958.7 1134.2 958.9 1135.3 958.9C1136.4 959 1137.5 959 1138.6 959C1139.7 959 1140.8 958.9 1141.9 958.9C1143 958.9 1144.1 959.1 1145.2 959.1C1146.3 959.2 1147.4 959 1148.5 959C1149.6 958.9 1150.7 958.8 1151.8 958.8C1152.9 958.9 1154 959.1 1155.1 959.1C1156.2 959.2 1157.3 959.1 1158.4 959.1C1159.5 959.2 1160.6 959.4 1161.7 959.5C1162.8 959.5 1163.9 959.6 1165 959.5C1166.1 959.5 1167.2 959.3 1168.3 959.3C1169.4 959.3 1170.5 959.4 1171.6 959.5C1172.7 959.5 1173.8 959.6 1174.9 959.6C1176 959.6 1177.1 959.7 1178.2 959.7C1179.3 959.6 1180.4 959.5 1181.5 959.5C1182.6 959.5 1183.7 959.6 1184.8 959.7C1185.9 959.8 1187 959.4 1188.1 960C1189.2 960.5 1190.3 961.6 1191.4 963C1192.5 964.5 1193.6 963.5 1194.7 968.6C1195.8 973.8 1196.9 988.8 1198 993.9C1199.1 999.1 1200.2 996 1201.3 999.6C1202.4 1003.1 1203.5 1012 1204.6 1015.4C1205.7 1018.8 1206.8 1019.2 1207.8 1020C1208.9 1020.8 1210 1020.2 1211.1 1020.2C1212.2 1020.3 1213.3 1020.2 1214.4 1020.4C1215.5 1020.6 1216.6 1020.2 1217.7 1021.5C1218.8 1022.9 1219.9 1027.4 1221 1028.6C1222.1 1029.8 1223.2 1028.8 1224.3 1028.9C1225.4 1029 1226.5 1028.9 1227.6 1028.9C1228.7 1029 1229.8 1028.9 1230.9 1028.9C1232 1028.9 1233.1 1029 1234.2 1029C1235.3 1029 1236.4 1028.9 1237.5 1028.9C1238.6 1028.9 1239.7 1029 1240.8 1029C1241.9 1029 1243 1028.9 1244.1 1028.9C1245.2 1028.9 1246.3 1030 1247.4 1029C1248.5 1027.2 1249.6 1023 1250.7 1018.2C1251.8 1013.3 1252.9 1005.7 1254 1000C1255.1 994.4 1256.2 988.2 1257.3 984.3C1258.4 980.5 1259.5 978.8 1260.6 976.9C1261.7 975.1 1262.8 974.1 1263.9 973.1C1265 972.1 1266.1 971.6 1267.2 971C1268.3 970.3 1269.4 969.7 1270.5 969.3C1271.6 968.9 1272.7 968.7 1273.8 968.5C1274.9 968.2 1276 968.2 1277.1 967.8C1278.2 967.4 1279.3 966.3 1280.4 965.9C1281.5 965.5 1282.6 965.9 1283.7 965.6C1284.8 965.4 1285.9 964.7 1287 964.6C1288.1 964.4 1289.2 964.6 1290.3 964.5C1291.4 964.4 1292.5 964.4 1293.6 964.2C1294.7 964 1295.8 963.5 1296.9 963.3C1298 963.1 1299.1 963.1 1300.2 962.9C1301.3 962.6 1302.4 962.2 1303.5 961.9C1304.6 961.6 1305.7 961.6 1306.8 961.4C1307.9 961.1 1309 960.5 1310.1 960.4C1311.2 960.2 1312.3 960.2 1313.4 960.2C1314.5 960.2 1315.6 960.3 1316.7 960.2C1317.8 960.1 1318.9 959.7 1320 959.6C1321.1 959.5 1322.2 959.4 1323.3 959.4C1324.4 959.3 1325.5 959.5 1326.6 959.5C1327.7 959.4 1328.8 958.9 1329.9 958.9C1331 958.8 1332.1 959.1 1333.2 959.2C1334.3 959.3 1335.4 959.4 1336.5 959.5C1337.6 959.5 1338.7 959.5 1339.8 959.5C1340.9 959.5 1342 959.5 1343.1 959.5C1344.2 959.4 1345.3 959.4 1346.4 959.4C1347.5 959.3 1348.6 959.4 1349.7 959.4C1350.8 959.4 1351.9 959.5 1353 959.4C1354.1 959.4 1355.2 959.2 1356.3 959.1C1357.4 959.1 1358.5 959.2 1359.6 959.1C1360.7 959.1 1361.8 958.9 1362.9 958.8C1364 958.8 1365.1 958.8 1366.2 958.9C1367.3 958.9 1368.4 959 1369.5 959.1C1370.6 959.2 1371.7 959.4 1372.8 959.5C1373.9 959.6 1375 959.7 1376.1 959.7C1377.2 959.8 1378.3 959.5 1379.4 959.6C1380.5 959.7 1381.6 960.1 1382.7 960.2C1383.8 960.3 1384.9 960.3 1386 960.2C1387.1 960.1 1388.2 959.7 1389.3 959.7C1390.4 959.7 1391.5 960.2 1392.6 960.2C1393.7 960.2 1394.8 959.7 1395.9 959.7C1397 959.6 1398.1 959.8 1399.2 959.9C1400.3 959.9 1401.4 959.9 1402.5 959.9C1403.6 959.9 1404.7 959.8 1405.8 959.8C1406.9 959.9 1408 960 1409.1 960C1410.2 960 1411.3 960 1412.4 960C1413.5 959.9 1414.6 959.9 1415.7 959.8C1416.8 959.7 1417.9 959.3 1419 959.2C1420.1 959.2 1421.2 959.5 1422.3 959.6C1423.4 959.6 1424.5 959.6 1425.6 959.6C1426.7 959.7 1427.8 959.8 1428.9 959.9C1430 960 1431.1 960 1432.2 960C1433.3 960 1434.4 959.9 1435.5 959.8C1436.6 959.7 1437.7 959.4 1438.8 959.5C1439.9 959.5 1441 958.5 1442.1 960.2C1443.2 962.8 1444.3 974.5 1445.3 974.9C1446.4 975.3 1447.5 964.9 1448.6 962.5C1449.7 960.1 1450.8 960.8 1451.9 960.5C1453 960.2 1454.1 960.4 1455.2 960.5C1456.3 960.6 1457.4 959.5 1458.5 961.1C1459.6 963.6 1460.7 975.5 1461.8 975.7C1462.9 975.8 1464 964.3 1465.1 961.8C1466.2 959.7 1467.3 960.9 1468.4 960.7C1469.5 960.4 1470.6 960.3 1471.7 960.2C1472.8 960.2 1473.9 960.3 1475 960.3C1476.1 960.3 1477.2 960.5 1478.3 960.5C1479.4 960.5 1480.5 960.6 1481.6 960.4C1482.7 960.1 1483.8 959.2 1484.9 958.9C1486 958.6 1487.1 958.6 1488.2 958.6C1489.3 958.6 1490.4 958.7 1491.5 958.7C1492.6 958.7 1493.7 958.7 1494.8 958.6C1495.9 958.5 1497 958.2 1498.1 958.2C1499.2 958.1 1500.3 958.3 1501.4 958.4C1502.5 958.5 1503.6 958.6 1504.7 958.7C1505.8 958.7 1506.9 958.8 1508 958.8C1509.1 958.8 1510.2 958 1511.3 958.5C1512.4 959 1513.5 960.2 1514.6 961.7C1515.7 963.2 1516.8 966.6 1517.9 967.7C1519 968.8 1520.1 969.5 1521.2 968.5C1522.3 967.2 1523.4 961.5 1524.5 960C1525.6 958.4 1526.7 959.4 1527.8 959.2C1528.9 959 1530 958.9 1531.1 958.8C1532.2 958.7 1533.3 958.7 1534.4 958.7C1535.5 958.6 1536.6 958.6 1537.7 958.6C1538.8 958.6 1539.9 958.6 1541 958.6C1542.1 958.6 1543.2 958.5 1544.3 958.5C1545.4 958.5 1546.5 958.6 1547.6 958.6C1548.7 958.6 1549.8 958.5 1550.9 958.5C1552 958.5 1553.1 958.4 1554.2 958.4C1555.3 958.4 1556.4 958.6 1557.5 958.6C1558.6 958.6 1559.7 958.6 1560.8 958.5C1561.9 958.5 1563 958.3 1564.1 958.3C1565.2 958.4 1566.3 958.7 1567.4 958.8C1568.5 958.9 1569.6 958.8 1570.7 958.7C1571.8 958.7 1572.9 958.7 1574 958.7C1575.1 958.6 1576.2 958.4 1577.3 958.3C1578.4 958.3 1579.5 958.5 1580.6 958.5C1581.7 958.5 1582.8 958.3 1583.9 958.3C1585 958.3 1586.1 958.5 1587.2 958.5C1588.3 958.5 1589.4 958.4 1590.5 958.4C1591.6 958.3 1592.7 958.2 1593.8 958.2C1594.9 958.2 1596 958.3 1597.1 958.3C1598.2 958.4 1599.3 958.4 1600.4 958.4C1601.5 958.4 1602.6 958.4 1603.7 958.4C1604.8 958.4 1605.9 958.5 1607 958.5C1608.1 958.5 1609.2 958.3 1610.3 958.3C1611.4 958.2 1612.5 958.3 1613.6 958.2C1614.7 958.2 1615.8 958 1616.9 958C1618 958 1619.1 958.1 1620.2 958.2C1621.3 958.3 1622.4 958.4 1623.5 958.4C1624.6 958.5 1625.7 958.4 1626.8 958.5C1627.9 958.5 1629 958.5 1630.1 958.5C1631.2 958.5 1632.3 958.3 1633.4 958.3C1634.5 958.2 1635.6 958.3 1636.7 958.3C1637.8 958.3 1638.9 958.2 1640 958.2C1641.1 958.1 1642.2 957.9 1643.3 957.9C1644.4 957.9 1645.5 958.3 1646.6 958.3C1647.7 958.3 1648.8 958.1 1649.9 958.1C1651 958.1 1652.1 958.3 1653.2 958.3C1654.3 958.4 1655.4 958.3 1656.5 958.4C1657.6 958.4 1658.7 958.4 1659.8 958.4C1660.9 958.3 1662 958.2 1663.1 958.2C1664.2 958.1 1665.3 958.1 1666.4 958.1C1667.5 958.1 1668.6 958.1 1669.7 958.1C1670.8 958.2 1671.9 958.2 1673 958.2C1674.1 958.2 1675.2 958.3 1676.3 958.2C1677.4 958.2 1678.5 958.2 1679.6 958.1C1680.7 958.1 1681.8 957.9 1682.8 957.9C1683.9 958 1685 958.1 1686.1 958.2C1687.2 958.2 1688.3 958.3 1689.4 958.3C1690.5 958.3 1691.6 958.2 1692.7 958.2C1693.8 958.2 1694.9 958.1 1696 958.1C1697.1 958.1 1698.2 958.3 1699.3 958.3C1700.4 958.3 1701.5 958.1 1702.6 958C1703.7 958 1704.8 958.1 1705.9 958.1C1707 958.1 1708.1 958 1709.2 958C1710.3 958 1711.4 958.1 1712.5 958.1C1713.6 958.1 1714.7 958.2 1715.8 958.2C1716.9 958.2 1718 958 1719.1 958C1720.2 958 1721.3 958.1 1722.4 958.1C1723.5 958.1 1724.6 958 1725.7 958C1726.8 958.1 1727.9 958.3 1729 958.4C1730.1 958.4 1731.2 958.2 1732.3 958.1C1733.4 958.1 1734.5 958.2 1735.6 958.1C1736.7 958.1 1737.8 958 1738.9 957.9C1740 957.9 1741.1 958.1 1742.2 958.1C1743.3 958.1 1744.4 958 1745.5 957.9C1746.6 957.9 1747.7 958 1748.8 958C1749.9 958 1751 958.1 1752.1 958.2C1753.2 958.2 1754.3 958.1 1755.4 958.1C1756.5 958.1 1757.6 958.1 1758.7 958.1C1759.8 958.1 1760.9 958 1762 958.1C1763.1 958.1 1764.2 958.3 1765.3 958.3C1766.4 958.3 1767.5 958.1 1768.6 958.1C1769.7 958.1 1770.8 958.3 1771.9 958.2C1773 958.2 1774.1 958.1 1775.2 958.1C1776.3 958 1777.4 957.8 1778.5 957.8C1779.6 957.8 1780.7 958 1781.8 958C1782.9 958.1 1784 958.2 1785.1 958.2C1786.2 958.2 1787.3 958 1788.4 958C1789.5 958 1790.6 958 1791.7 958C1792.8 958 1793.9 958 1795 958C1796.1 958 1797.2 958 1798.3 957.9C1799.4 957.9 1800.5 957.7 1801.6 957.7C1802.7 957.6 1803.8 957.8 1804.9 957.9C1806 958 1807.1 958.2 1808.2 958.2C1809.3 958.2 1810.4 958 1811.5 958C1812.6 957.9 1813.7 957.8 1814.8 957.8C1815.9 957.7 1817 957.6 1818.1 957.7C1819.2 957.7 1820.3 957.8 1821.4 957.9C1822.5 958 1823.6 958 1824.7 958C1825.8 958.1 1826.9 958 1828 958C1829.1 957.9 1830.2 957.8 1831.3 957.8C1832.4 957.7 1833.5 957.9 1834.6 957.9C1835.7 957.9 1836.8 957.7 1837.9 957.7C1839 957.7 1840.1 957.9 1841.2 958C1842.3 958 1843.4 958.1 1844.5 958.1C1845.6 958.1 1846.7 958 1847.8 958C1848.9 958 1850 958 1851.1 958C1852.2 958 1853.3 958.1 1854.4 958C1855.5 958 1856.6 957.9 1857.7 957.9C1858.8 957.9 1859.9 958 1861 958C1862.1 958 1863.2 958 1864.3 958C1865.4 958.1 1866.5 958.1 1867.6 958.2C1868.7 958.2 1869.8 958.4 1870.9 958.4C1872 958.4 1873.1 958.2 1874.2 958.1C1875.3 958.1 1876.4 957.9 1877.5 957.9C1878.6 958 1879.7 958.4 1880.8 958.5C1881.9 958.6 1883 958.6 1884.1 958.7C1885.2 958.7 1886.3 958.8 1887.4 958.8C1888.5 958.8 1889.6 958.9 1890.7 958.9C1891.8 958.9 1892.9 959 1894 958.9C1895.1 958.9 1896.2 958.7 1897.3 958.6C1898.4 958.4 1899.5 958.3 1900.6 958.3C1901.7 958.2 1902.8 958.1 1903.9 958.1C1905 958 1906.1 958.1 1907.2 958.1C1908.3 958.2 1909.4 958.3 1910.5 958.3C1911.6 958.2 1912.7 958.1 1913.8 958.1C1914.9 958.1 1916 958.2 1917.1 958.3C1918.2 958.3 1919.3 958.3 1920.3 958.3C1921.4 958.3 1922.5 958.2 1923.6 958.2C1924.7 958.2 1925.8 958.4 1926.9 958.3C1928 958.3 1929.1 957.9 1930.2 957.9C1931.3 957.8 1932.4 958 1933.5 958.1C1934.6 958.2 1935.7 958.2 1936.8 958.3C1937.9 958.3 1939 958.2 1940.1 958.2C1941.2 958.2 1942.3 958.3 1943.4 958.3C1944.5 958.3 1945.6 958.1 1946.7 958C1947.8 958 1948.9 958 1950 958C1951.1 958 1952.2 957.9 1953.3 957.9C1954.4 957.9 1955.5 958.1 1956.6 958C1957.7 958 1958.8 957.8 1959.9 957.7C1961 957.7 1962.1 957.7 1963.2 957.8C1964.3 957.8 1965.4 957.7 1966.5 957.8C1967.6 957.8 1968.7 958.2 1969.8 958.2C1970.9 958.2 1972 957.9 1973.1 957.8C1974.2 957.7 1975.3 957.7 1976.4 957.7C1977.5 957.7 1978.6 957.8 1979.7 957.8C1980.8 957.9 1981.9 958 1983 957.9C1984.1 957.9 1985 957.7 1986.3 957.6C1987.7 957.6 1990.2 957.6 1991 957.6" fill="none" stroke="#1f78b4" stroke-width="2.1" stroke-linejoin="round"/>
</g>
<rect x="1039" y="950" width="950" height="80" fill="rgba(62,178,228,0.3)"/>
<path d="M84 949 H1989 V1030 M1039 949 V1030" fill="none" stroke="#999" stroke-width="2"/>
<rect x="1031.2" y="975.1" width="15.8" height="29.8" fill="#f2f2f2" stroke="#999" stroke-width="2"/>
<path d="M1037 982 V998 M1041.2 982 V998" stroke="#999" stroke-width="1.6" fill="none"/>
<rect x="1981.2" y="975.1" width="15.8" height="29.8" fill="#f2f2f2" stroke="#999" stroke-width="2"/>
<path d="M1987 982 V998 M1991.2 982 V998" stroke="#999" stroke-width="1.6" fill="none"/>
<text x="159" y="1053" font-size="19.85" fill="#999" text-anchor="middle">Aug 3</text>
<text x="317" y="1053" font-size="19.85" fill="#999" text-anchor="middle">8:00AM</text>
<text x="477" y="1053" font-size="19.85" fill="#999" text-anchor="middle">4:00PM</text>
<text x="635" y="1053" font-size="19.85" fill="#999" text-anchor="middle">Aug 4</text>
<text x="793" y="1053" font-size="19.85" fill="#999" text-anchor="middle">8:00AM</text>
<text x="951" y="1053" font-size="19.85" fill="#999" text-anchor="middle">4:00PM</text>
<text x="1109" y="1053" font-size="19.85" fill="#999" text-anchor="middle">Aug 5</text>
<text x="1269" y="1053" font-size="19.85" fill="#999" text-anchor="middle">8:00AM</text>
<text x="1427" y="1053" font-size="19.85" fill="#999" text-anchor="middle">4:00PM</text>
<text x="1585" y="1053" font-size="19.85" fill="#999" text-anchor="middle">Aug 6</text>
<text x="1743" y="1053" font-size="19.85" fill="#999" text-anchor="middle">8:00AM</text>
<text x="1901" y="1053" font-size="19.85" fill="#999" text-anchor="middle">4:00PM</text>
</g>
<g id="legend" font-size="23.7" fill="#333">
<line x1="260" x2="292" y1="1092" y2="1092" stroke="#5d28a2" stroke-width="1.5"/>
<circle cx="276" cy="1092" r="3" fill="#5d28a2"/>
<text x="301.6" y="1100.2" textLength="176.6" lengthAdjust="spacingAndGlyphs">Google (Search)</text>
<line x1="567" x2="599" y1="1092" y2="1092" stroke="#ec973c" stroke-width="1.5"/>
<rect x="580" y="1089" width="6" height="6" fill="#ec973c"/>
<text x="610" y="1100.2" textLength="350" lengthAdjust="spacingAndGlyphs">Telescope (# Unique Source IPs)</text>
<line x1="1060.8" x2="1092.8" y1="1092" y2="1092" stroke="#33a02c" stroke-width="1.5"/>
<path d="M1073.8 1089.2 h6 l-3 5.6 Z" fill="#33a02c"/>
<text x="1102" y="1100.2" textLength="209.6" lengthAdjust="spacingAndGlyphs">BGP (#Visible /24s)</text>
<line x1="1404.8" x2="1436.8" y1="1092" y2="1092" stroke="#1f78b4" stroke-width="1.5"/>
<path d="M1420.8 1089 l3 3 l-3 3 l-3 -3 Z" fill="#1f78b4"/>
<text x="1447.2" y="1100.2" textLength="273" lengthAdjust="spacingAndGlyphs">Active Probing (#/24s Up)</text>
</g>
</svg>
</body></html>
